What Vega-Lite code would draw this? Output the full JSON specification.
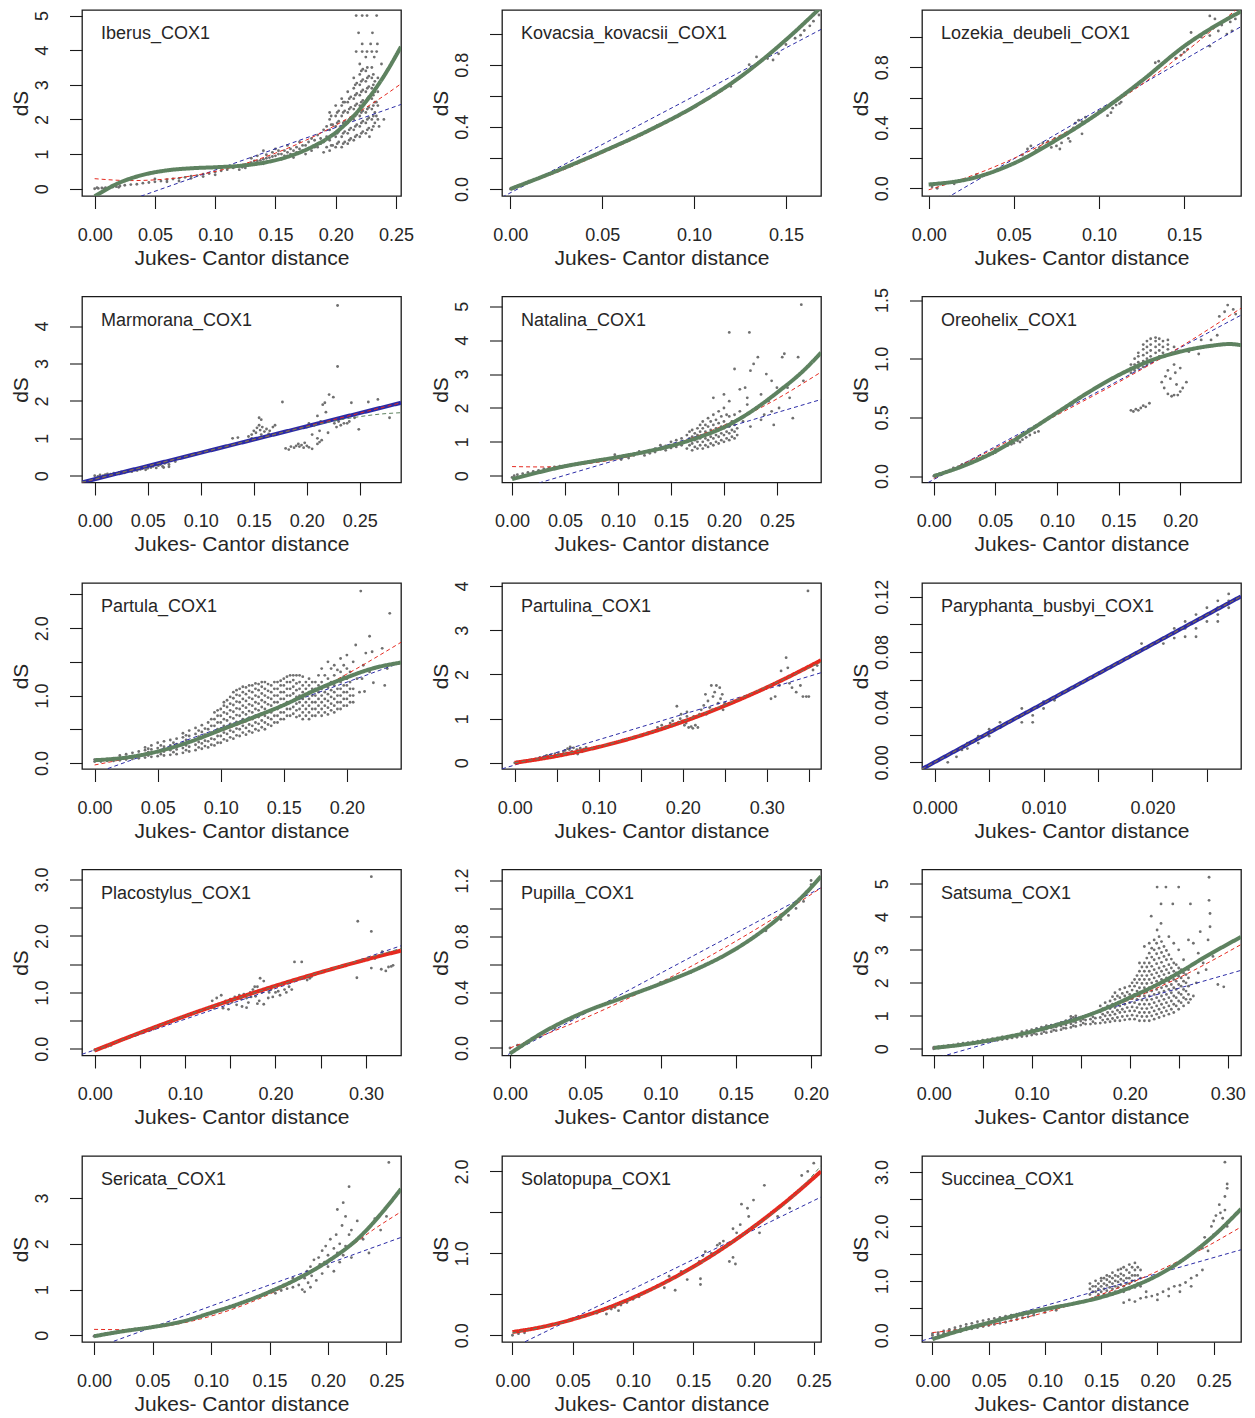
{"$schema":"https://vega.github.io/schema/vega-lite/v6.json","background":"white","padding":{"left":9,"top":9,"right":5,"bottom":5},"bounds":"flush","columns":3,"spacing":{"row":100.5,"column":101},
"datasets":{
"p1":[{"x":0,"y":0},{"x":0.002,"y":0.03},{"x":0.003,"y":0.01},{"x":0.006,"y":0.02},{"x":0.008,"y":0},{"x":0.009,"y":0.03},{"x":0.012,"y":0.04},{"x":0.014,"y":0.08},{"x":0.015,"y":0.05},{"x":0.018,"y":0.06},{"x":0.02,"y":0.04},{"x":0.021,"y":0.08},{"x":0.025,"y":0.1},{"x":0.03,"y":0.12},{"x":0.035,"y":0.13},{"x":0.04,"y":0.16},{"x":0.045,"y":0.18},{"x":0.05,"y":0.2},{"x":0.05,"y":0.28},{"x":0.055,"y":0.22},{"x":0.06,"y":0.26},{"x":0.06,"y":0.2},{"x":0.065,"y":0.28},{"x":0.07,"y":0.3},{"x":0.07,"y":0.22},{"x":0.075,"y":0.33},{"x":0.08,"y":0.36},{"x":0.08,"y":0.3},{"x":0.085,"y":0.38},{"x":0.09,"y":0.42},{"x":0.09,"y":0.35},{"x":0.095,"y":0.44},{"x":0.1,"y":0.48},{"x":0.1,"y":0.4},{"x":0.105,"y":0.52},{"x":0.11,"y":0.55},{"x":0.11,"y":0.62},{"x":0.115,"y":0.6},{"x":0.12,"y":0.65},{"x":0.12,"y":0.55},{"x":0.125,"y":0.7},{"x":0.125,"y":0.6},{"x":0.13,"y":0.75},{"x":0.13,"y":0.88},{"x":0.135,"y":0.8},{"x":0.135,"y":0.95},{"x":0.14,"y":0.85},{"x":0.14,"y":0.72},{"x":0.14,"y":1.1},{"x":0.145,"y":0.9},{"x":0.145,"y":0.78},{"x":0.15,"y":0.95},{"x":0.15,"y":1.15},{"x":0.155,"y":1},{"x":0.155,"y":0.85},{"x":0.16,"y":1.05},{"x":0.16,"y":1.25},{"x":0.16,"y":0.95},{"x":0.165,"y":1.1},{"x":0.165,"y":0.9},{"x":0.17,"y":1.15},{"x":0.17,"y":1.35},{"x":0.175,"y":1},{"x":0.175,"y":1.25},{"x":0.18,"y":1.1},{"x":0.18,"y":1.45},{"x":0.185,"y":1.2},{"x":0.185,"y":1.55},{"x":0.19,"y":1.05},{"x":0.19,"y":1.35},{"x":0.19,"y":1.7},
{"x":0.195,"y":1.1},{"x":0.195,"y":1.4},{"x":0.195,"y":1.7},{"x":0.195,"y":2},{"x":0.195,"y":2.2},{"x":0.1975,"y":1.25},{"x":0.1975,"y":1.55},{"x":0.1975,"y":1.85},{"x":0.2,"y":1.2},{"x":0.2,"y":1.5},{"x":0.2,"y":1.8},{"x":0.2,"y":2.1},{"x":0.2,"y":2.4},{"x":0.2025,"y":1.35},{"x":0.2025,"y":1.65},{"x":0.2025,"y":1.95},{"x":0.2025,"y":2.25},{"x":0.205,"y":1.2},{"x":0.205,"y":1.5},{"x":0.205,"y":1.8},{"x":0.205,"y":2.1},{"x":0.205,"y":2.4},{"x":0.205,"y":2.6},{"x":0.2075,"y":1.35},{"x":0.2075,"y":1.65},{"x":0.2075,"y":1.95},{"x":0.2075,"y":2.25},{"x":0.2075,"y":2.5},{"x":0.21,"y":1.3},{"x":0.21,"y":1.6},{"x":0.21,"y":1.9},{"x":0.21,"y":2.2},{"x":0.21,"y":2.5},{"x":0.21,"y":2.8},{"x":0.2125,"y":1.45},{"x":0.2125,"y":1.75},{"x":0.2125,"y":2.05},{"x":0.2125,"y":2.35},{"x":0.2125,"y":2.65},{"x":0.215,"y":1.4},{"x":0.215,"y":1.7},{"x":0.215,"y":2},{"x":0.215,"y":2.3},{"x":0.215,"y":2.6},{"x":0.215,"y":2.9},{"x":0.215,"y":3.2},{"x":0.2175,"y":1.55},{"x":0.2175,"y":1.85},{"x":0.2175,"y":2.15},{"x":0.2175,"y":2.45},{"x":0.2175,"y":2.75},{"x":0.2175,"y":3.05},{"x":0.22,"y":1.5},{"x":0.22,"y":1.8},{"x":0.22,"y":2.1},{"x":0.22,"y":2.4},{"x":0.22,"y":2.7},{"x":0.22,"y":3},{"x":0.22,"y":3.3},{"x":0.22,"y":3.6},{"x":0.2225,"y":1.65},{"x":0.2225,"y":1.95},{"x":0.2225,"y":2.25},{"x":0.2225,"y":2.55},{"x":0.2225,"y":2.85},{"x":0.2225,"y":3.15},{"x":0.2225,"y":3.45},{"x":0.225,"y":1.6},{"x":0.225,"y":1.9},{"x":0.225,"y":2.2},{"x":0.225,"y":2.5},{"x":0.225,"y":2.8},{"x":0.225,"y":3.1},{"x":0.225,"y":3.4},{"x":0.225,"y":3.8},{"x":0.2275,"y":1.75},{"x":0.2275,"y":2.05},{"x":0.2275,"y":2.35},{"x":0.2275,"y":2.65},{"x":0.2275,"y":2.95},{"x":0.2275,"y":3.25},{"x":0.23,"y":1.7},{"x":0.23,"y":2},{"x":0.23,"y":2.3},{"x":0.23,"y":2.6},{"x":0.23,"y":2.9},{"x":0.23,"y":3.2},{"x":0.23,"y":3.5},{"x":0.2325,"y":1.9},{"x":0.2325,"y":2.2},{"x":0.2325,"y":2.5},{"x":0.2325,"y":2.8},{"x":0.2325,"y":3.1},{"x":0.235,"y":2},{"x":0.235,"y":2.4},{"x":0.235,"y":2.8},{"x":0.235,"y":3.2},
{"x":0.19625,"y":1.25},{"x":0.19625,"y":1.55},{"x":0.19625,"y":1.85},{"x":0.19625,"y":2.1},{"x":0.20125,"y":1.3},{"x":0.20125,"y":1.6},{"x":0.20125,"y":1.9},{"x":0.20125,"y":2.2},{"x":0.20625,"y":1.3},{"x":0.20625,"y":1.6},{"x":0.20625,"y":1.9},{"x":0.20625,"y":2.2},{"x":0.20625,"y":2.5},{"x":0.21125,"y":1.4},{"x":0.21125,"y":1.7},{"x":0.21125,"y":2},{"x":0.21125,"y":2.3},{"x":0.21125,"y":2.6},{"x":0.21625,"y":1.5},{"x":0.21625,"y":1.8},{"x":0.21625,"y":2.1},{"x":0.21625,"y":2.4},{"x":0.21625,"y":2.7},{"x":0.21625,"y":3},{"x":0.22125,"y":1.6},{"x":0.22125,"y":1.9},{"x":0.22125,"y":2.2},{"x":0.22125,"y":2.5},{"x":0.22125,"y":2.8},{"x":0.22125,"y":3.1},{"x":0.22125,"y":3.4},{"x":0.22625,"y":1.7},{"x":0.22625,"y":2},{"x":0.22625,"y":2.3},{"x":0.22625,"y":2.6},{"x":0.22625,"y":2.9},{"x":0.22625,"y":3.2},{"x":0.22625,"y":3.5},{"x":0.23125,"y":1.8},{"x":0.23125,"y":2.1},{"x":0.23125,"y":2.4},{"x":0.23125,"y":2.7},{"x":0.23125,"y":3},{"x":0.23125,"y":3.3},{"x":0.23375,"y":2.1},{"x":0.23375,"y":2.5},{"x":0.23375,"y":2.9},
{"x":0.1225,"y":0.62},{"x":0.1275,"y":0.68},{"x":0.1325,"y":0.8},{"x":0.1375,"y":0.82},{"x":0.1425,"y":0.88},{"x":0.1425,"y":0.98},{"x":0.1475,"y":0.93},{"x":0.1475,"y":1.05},{"x":0.1525,"y":1},{"x":0.1525,"y":1.1},{"x":0.1575,"y":0.95},{"x":0.1575,"y":1.1},{"x":0.1625,"y":1},{"x":0.1625,"y":1.15},{"x":0.1675,"y":1.05},{"x":0.1675,"y":1.2},{"x":0.1725,"y":1.1},{"x":0.1725,"y":1.25},{"x":0.1775,"y":1.15},{"x":0.1775,"y":1.35},{"x":0.1825,"y":1.2},{"x":0.1825,"y":1.4},{"x":0.1875,"y":1.3},{"x":0.1875,"y":1.45},{"x":0.1925,"y":1.2},{"x":0.1925,"y":1.5},{"x":0.1925,"y":1.8},
{"x":0.217,"y":3.96},{"x":0.222,"y":3.96},{"x":0.226,"y":3.96},{"x":0.23,"y":3.96},{"x":0.234,"y":3.96},{"x":0.222,"y":4.18},{"x":0.229,"y":4.18},{"x":0.2346,"y":4.18},{"x":0.219,"y":4.5},{"x":0.2305,"y":4.5},{"x":0.217,"y":5},{"x":0.222,"y":5},{"x":0.226,"y":5},{"x":0.234,"y":5},{"x":0.232,"y":3.8},{"x":0.238,"y":3.6},{"x":0.24,"y":2},{"x":0.236,"y":1.8},{"x":0.228,"y":1.5}],
"p2":[{"x":0,"y":0},{"x":0.002,"y":0.005},{"x":0.004,"y":0.02},{"x":0.01,"y":0.05},{"x":0.03,"y":0.14},{"x":0.06,"y":0.29},{"x":0.08,"y":0.41},{"x":0.1,"y":0.53},{"x":0.12,"y":0.66},{"x":0.13,"y":0.8},{"x":0.134,"y":0.85},{"x":0.14,"y":0.84},{"x":0.143,"y":0.83},{"x":0.146,"y":0.87},{"x":0.15,"y":0.93},{"x":0.155,"y":0.97},{"x":0.158,"y":0.99},{"x":0.16,"y":1.02},{"x":0.163,"y":1.05},{"x":0.165,"y":1.08},{"x":0.168,"y":1.12}],
"p3":[{"x":0.002,"y":0.01},{"x":0.005,"y":0},{"x":0.009,"y":0.03},{"x":0.015,"y":0.03},{"x":0.018,"y":0.05},{"x":0.028,"y":0.09},{"x":0.03,"y":0.07},{"x":0.045,"y":0.14},{"x":0.055,"y":0.22},{"x":0.058,"y":0.26},{"x":0.06,"y":0.28},{"x":0.063,"y":0.25},{"x":0.065,"y":0.27},{"x":0.067,"y":0.3},{"x":0.07,"y":0.31},{"x":0.072,"y":0.27},{"x":0.074,"y":0.33},{"x":0.075,"y":0.28},{"x":0.077,"y":0.26},{"x":0.078,"y":0.3},{"x":0.08,"y":0.35},{"x":0.082,"y":0.33},{"x":0.083,"y":0.31},{"x":0.085,"y":0.4},{"x":0.086,"y":0.43},{"x":0.088,"y":0.45},{"x":0.09,"y":0.44},{"x":0.09,"y":0.36},{"x":0.092,"y":0.47},{"x":0.095,"y":0.46},{"x":0.097,"y":0.48},{"x":0.1,"y":0.51},{"x":0.102,"y":0.52},{"x":0.105,"y":0.48},{"x":0.107,"y":0.5},{"x":0.108,"y":0.53},{"x":0.11,"y":0.55},{"x":0.112,"y":0.56},{"x":0.113,"y":0.57},{"x":0.133,"y":0.83},{"x":0.135,"y":0.84},{"x":0.142,"y":0.87},{"x":0.145,"y":0.86},{"x":0.148,"y":0.88},{"x":0.15,"y":0.9},{"x":0.152,"y":0.92},{"x":0.154,"y":1.03},{"x":0.16,"y":1},{"x":0.163,"y":1.03},{"x":0.165,"y":1.01},{"x":0.165,"y":1.14},{"x":0.165,"y":0.94},{"x":0.167,"y":1.06},{"x":0.168,"y":1.12},{"x":0.17,"y":1.04},{"x":0.172,"y":1.08},{"x":0.175,"y":1.02},{"x":0.177,"y":1.1},{"x":0.178,"y":1.04},{"x":0.18,"y":1.12}],
"p4":[{"x":0,"y":0},{"x":0.003,"y":-0.02},{"x":0.005,"y":0.02},{"x":0.008,"y":0},{"x":0.01,"y":0.03},{"x":0.012,"y":0.05},{"x":0.015,"y":0.04},{"x":0.018,"y":0.07},{"x":0.02,"y":0.06},{"x":0.023,"y":0.09},{"x":0.025,"y":0.1},{"x":0.028,"y":0.08},{"x":0.03,"y":0.12},{"x":0.033,"y":0.13},{"x":0.035,"y":0.11},{"x":0.038,"y":0.15},{"x":0.04,"y":0.14},{"x":0.043,"y":0.17},{"x":0.045,"y":0.19},{"x":0.048,"y":0.16},{"x":0.05,"y":0.2},{"x":0.053,"y":0.22},{"x":0.055,"y":0.25},{"x":0.058,"y":0.21},{"x":0.06,"y":0.27},{"x":0.062,"y":0.3},{"x":0.064,"y":0.25},{"x":0.066,"y":0.33},{"x":0.068,"y":0.36},{"x":0.07,"y":0.3},{"x":0.072,"y":0.4},{"x":0.074,"y":0.44},{"x":0.076,"y":0.38},{"x":0.065,"y":0.22},{"x":0.07,"y":0.24},{"x":0.13,"y":1},{"x":0.135,"y":1.02},{"x":0.145,"y":1.05},{"x":0.148,"y":1.1},{"x":0.15,"y":1.2},{"x":0.152,"y":1.15},{"x":0.153,"y":1.28},{"x":0.155,"y":1.35},{"x":0.156,"y":1.22},{"x":0.157,"y":1.1},{"x":0.158,"y":1.3},{"x":0.16,"y":1.18},{"x":0.162,"y":1.25},{"x":0.164,"y":1.12},{"x":0.165,"y":1.2},{"x":0.155,"y":1.55},{"x":0.157,"y":1.5},{"x":0.168,"y":1.3},{"x":0.17,"y":1.35},{"x":0.177,"y":1.97},{"x":0.148,"y":1},{"x":0.152,"y":0.98},{"x":0.18,"y":0.73},{"x":0.183,"y":0.7},{"x":0.185,"y":0.78},{"x":0.188,"y":0.75},{"x":0.19,"y":0.8},{"x":0.192,"y":0.85},{"x":0.193,"y":0.78},{"x":0.195,"y":0.82},{"x":0.197,"y":0.75},{"x":0.198,"y":0.88},{"x":0.2,"y":0.8},{"x":0.202,"y":0.76},{"x":0.205,"y":0.72},{"x":0.21,"y":0.85},{"x":0.212,"y":0.9},{"x":0.2,"y":1.3},{"x":0.202,"y":1.4},{"x":0.205,"y":1.1},{"x":0.207,"y":1.35},{"x":0.21,"y":1.6},{"x":0.212,"y":1.2},{"x":0.213,"y":1.45},{"x":0.215,"y":1.9},{"x":0.217,"y":1.95},{"x":0.218,"y":1.7},{"x":0.22,"y":1.15},{"x":0.221,"y":2.17},{"x":0.225,"y":2.1},{"x":0.226,"y":1.4},{"x":0.228,"y":1.3},{"x":0.229,"y":2.92},{"x":0.229,"y":4.55},{"x":0.23,"y":1.45},{"x":0.232,"y":1.35},{"x":0.235,"y":1.4},{"x":0.238,"y":1.4},{"x":0.24,"y":1.45},{"x":0.242,"y":1.95},{"x":0.245,"y":1.55},{"x":0.249,"y":1.24},{"x":0.258,"y":1.97},{"x":0.267,"y":2.04},{"x":0.278,"y":1.55},{"x":0.21,"y":1},{"x":0.214,"y":0.95}],
"p5":[{"x":0,"y":-0.05},{"x":0.002,"y":0},{"x":0.005,"y":0.03},{"x":0.01,"y":0.06},{"x":0.015,"y":0.1},{"x":0.02,"y":0.13},{"x":0.025,"y":0.16},{"x":0.03,"y":0.2},{"x":0.035,"y":0.23},{"x":0.04,"y":0.26},{"x":0.045,"y":0.28},{"x":0.05,"y":0.3},{"x":0.055,"y":0.33},{"x":0.06,"y":0.35},{"x":0.065,"y":0.37},{"x":0.07,"y":0.4},{"x":0.075,"y":0.42},{"x":0.08,"y":0.45},{"x":0.085,"y":0.47},{"x":0.09,"y":0.5},{"x":0.095,"y":0.52},{"x":0.1,"y":0.55},{"x":0.097,"y":0.62},{"x":0.103,"y":0.48},{"x":0.105,"y":0.58},{"x":0.11,"y":0.62},{"x":0.11,"y":0.52},{"x":0.115,"y":0.6},{"x":0.12,"y":0.65},{"x":0.12,"y":0.72},{"x":0.125,"y":0.6},{"x":0.125,"y":0.7},{"x":0.13,"y":0.75},{"x":0.13,"y":0.66},{"x":0.135,"y":0.8},{"x":0.135,"y":0.7},{"x":0.14,"y":0.78},{"x":0.14,"y":0.9},{"x":0.145,"y":0.75},{"x":0.145,"y":0.88},{"x":0.15,"y":0.82},{"x":0.15,"y":1},{"x":0.155,"y":0.85},{"x":0.155,"y":1.05},{"x":0.16,"y":0.9},{"x":0.16,"y":1.1},{"x":0.165,"y":0.8},{"x":0.165,"y":1},{"x":0.165,"y":1.2},{"x":0.17,"y":0.75},{"x":0.17,"y":0.95},{"x":0.17,"y":1.15},{"x":0.17,"y":1.35},{"x":0.175,"y":0.8},{"x":0.175,"y":1},{"x":0.175,"y":1.2},{"x":0.175,"y":1.4},{"x":0.18,"y":0.8},{"x":0.18,"y":1},{"x":0.18,"y":1.2},{"x":0.18,"y":1.4},{"x":0.18,"y":1.6},{"x":0.185,"y":0.85},{"x":0.185,"y":1.05},{"x":0.185,"y":1.25},{"x":0.185,"y":1.45},{"x":0.185,"y":1.7},{"x":0.19,"y":0.9},{"x":0.19,"y":1.1},{"x":0.19,"y":1.3},{"x":0.19,"y":1.5},{"x":0.19,"y":1.8},{"x":0.195,"y":0.95},{"x":0.195,"y":1.15},{"x":0.195,"y":1.35},{"x":0.195,"y":1.55},{"x":0.195,"y":1.9},{"x":0.2,"y":1},{"x":0.2,"y":1.2},{"x":0.2,"y":1.4},{"x":0.2,"y":1.6},{"x":0.2,"y":2},{"x":0.205,"y":1.05},{"x":0.205,"y":1.25},{"x":0.205,"y":1.45},{"x":0.205,"y":1.75},{"x":0.21,"y":1.1},{"x":0.21,"y":1.3},{"x":0.21,"y":1.5},{"x":0.21,"y":1.8},
{"x":0.1575,"y":0.95},{"x":0.1625,"y":1},{"x":0.1675,"y":0.9},{"x":0.1675,"y":1.1},{"x":0.1675,"y":1.3},{"x":0.1725,"y":0.85},{"x":0.1725,"y":1.05},{"x":0.1725,"y":1.25},{"x":0.1775,"y":0.9},{"x":0.1775,"y":1.1},{"x":0.1775,"y":1.3},{"x":0.1775,"y":1.5},{"x":0.1825,"y":0.9},{"x":0.1825,"y":1.1},{"x":0.1825,"y":1.3},{"x":0.1825,"y":1.5},{"x":0.1875,"y":0.95},{"x":0.1875,"y":1.15},{"x":0.1875,"y":1.35},{"x":0.1875,"y":1.6},{"x":0.1925,"y":1},{"x":0.1925,"y":1.2},{"x":0.1925,"y":1.4},{"x":0.1925,"y":1.65},{"x":0.1975,"y":1.05},{"x":0.1975,"y":1.25},{"x":0.1975,"y":1.45},{"x":0.1975,"y":1.75},{"x":0.2025,"y":1.1},{"x":0.2025,"y":1.3},{"x":0.2025,"y":1.5},{"x":0.2025,"y":1.8},{"x":0.2075,"y":1.15},{"x":0.2075,"y":1.35},{"x":0.2075,"y":1.6},{"x":0.2125,"y":1.2},{"x":0.2125,"y":1.4},{"x":0.2125,"y":1.65},
{"x":0.19,"y":2.3},{"x":0.2,"y":2.4},{"x":0.205,"y":2.2},{"x":0.205,"y":4.23},{"x":0.21,"y":3.15},{"x":0.215,"y":2.55},{"x":0.22,"y":2.6},{"x":0.222,"y":2.1},{"x":0.224,"y":4.23},{"x":0.225,"y":3.1},{"x":0.228,"y":3.3},{"x":0.23,"y":2},{"x":0.232,"y":3.5},{"x":0.235,"y":2.4},{"x":0.238,"y":1.8},{"x":0.24,"y":3},{"x":0.242,"y":2.2},{"x":0.245,"y":1.9},{"x":0.247,"y":1.5},{"x":0.25,"y":2.6},{"x":0.252,"y":2},{"x":0.255,"y":3.5},{"x":0.257,"y":3.6},{"x":0.26,"y":2.6},{"x":0.262,"y":2.3},{"x":0.265,"y":1.7},{"x":0.268,"y":2.9},{"x":0.27,"y":3.5},{"x":0.273,"y":5.05},{"x":0.275,"y":2.8},{"x":0.218,"y":1.6},{"x":0.225,"y":1.45},{"x":0.235,"y":1.65},{"x":0.245,"y":2.8},{"x":0.215,"y":1.9},{"x":0.222,"y":2.3}],
"p6":[{"x":0,"y":0},{"x":0.003,"y":0},{"x":0.006,"y":0.02},{"x":0.01,"y":0.04},{"x":0.013,"y":0.05},{"x":0.016,"y":0.07},{"x":0.02,"y":0.08},{"x":0.023,"y":0.1},{"x":0.026,"y":0.11},{"x":0.03,"y":0.13},{"x":0.035,"y":0.15},{"x":0.04,"y":0.17},{"x":0.045,"y":0.19},{"x":0.05,"y":0.2},{"x":0.05,"y":0.23},{"x":0.055,"y":0.24},{"x":0.06,"y":0.26},{"x":0.065,"y":0.28},{"x":0.068,"y":0.3},{"x":0.07,"y":0.29},{"x":0.075,"y":0.33},{"x":0.078,"y":0.35},{"x":0.082,"y":0.37},{"x":0.085,"y":0.38},{"x":0.048,"y":0.19},{"x":0.063,"y":0.27},{"x":0.072,"y":0.31},{"x":0.16,"y":0.88},{"x":0.16,"y":0.92},{"x":0.16,"y":0.95},{"x":0.163,"y":0.9},{"x":0.163,"y":0.95},{"x":0.163,"y":1},{"x":0.166,"y":0.92},{"x":0.166,"y":0.97},{"x":0.166,"y":1.02},{"x":0.166,"y":1.05},{"x":0.17,"y":0.93},{"x":0.17,"y":0.98},{"x":0.17,"y":1.03},{"x":0.17,"y":1.08},{"x":0.17,"y":1.12},{"x":0.173,"y":0.95},{"x":0.173,"y":1},{"x":0.173,"y":1.05},{"x":0.173,"y":1.1},{"x":0.173,"y":1.15},{"x":0.176,"y":0.97},{"x":0.176,"y":1.02},{"x":0.176,"y":1.07},{"x":0.176,"y":1.12},{"x":0.176,"y":1.17},{"x":0.18,"y":1},{"x":0.18,"y":1.05},{"x":0.18,"y":1.1},{"x":0.18,"y":1.15},{"x":0.18,"y":1.18},{"x":0.183,"y":1.02},{"x":0.183,"y":1.07},{"x":0.183,"y":1.12},{"x":0.183,"y":1.17},{"x":0.186,"y":1.05},{"x":0.186,"y":1.1},{"x":0.186,"y":1.15},{"x":0.19,"y":1.08},{"x":0.19,"y":1.12},{"x":0.19,"y":1.16},{"x":0.16,"y":0.56},{"x":0.162,"y":0.55},{"x":0.164,"y":0.57},{"x":0.166,"y":0.56},{"x":0.168,"y":0.58},{"x":0.17,"y":0.6},{"x":0.172,"y":0.59},{"x":0.175,"y":0.62},{"x":0.185,"y":0.8},{"x":0.187,"y":0.75},{"x":0.188,"y":0.85},{"x":0.19,"y":0.7},{"x":0.19,"y":0.9},{"x":0.192,"y":0.83},{"x":0.193,"y":0.68},{"x":0.195,"y":0.69},{"x":0.196,"y":0.88},{"x":0.197,"y":0.78},{"x":0.198,"y":0.69},{"x":0.2,"y":0.72},{"x":0.2,"y":0.92},{"x":0.202,"y":0.75},{"x":0.205,"y":0.8},{"x":0.195,"y":0.95},{"x":0.195,"y":1.1},{"x":0.207,"y":1.06},{"x":0.217,"y":1.16},{"x":0.215,"y":1.04},{"x":0.225,"y":1.16},{"x":0.23,"y":1.2},{"x":0.2317,"y":1.36},{"x":0.236,"y":1.4},{"x":0.2385,"y":1.457},{"x":0.243,"y":1.42},{"x":0.245,"y":1.38}],
"p7":[{"x":0,"y":0.02},{"x":0,"y":0.05},{"x":0.005,"y":0.02},{"x":0.005,"y":0.05},{"x":0.01,"y":0.03},{"x":0.01,"y":0.06},{"x":0.015,"y":0.03},{"x":0.015,"y":0.07},{"x":0.02,"y":0.04},{"x":0.02,"y":0.08},{"x":0.02,"y":0.11},{"x":0.025,"y":0.05},{"x":0.025,"y":0.09},{"x":0.025,"y":0.13},{"x":0.03,"y":0.06},{"x":0.03,"y":0.1},{"x":0.03,"y":0.15},{"x":0.035,"y":0.07},{"x":0.035,"y":0.12},{"x":0.035,"y":0.17},{"x":0.04,"y":0.08},{"x":0.04,"y":0.13},{"x":0.04,"y":0.19},{"x":0.04,"y":0.23},{"x":0.045,"y":0.09},{"x":0.045,"y":0.14},{"x":0.045,"y":0.2},{"x":0.045,"y":0.26},{"x":0.05,"y":0.1},{"x":0.05,"y":0.16},{"x":0.05,"y":0.22},{"x":0.05,"y":0.3},{"x":0.055,"y":0.11},{"x":0.055,"y":0.17},{"x":0.055,"y":0.24},{"x":0.055,"y":0.32},{"x":0.06,"y":0.12},{"x":0.06,"y":0.19},{"x":0.06,"y":0.26},{"x":0.06,"y":0.34},{"x":0.065,"y":0.13},{"x":0.065,"y":0.2},{"x":0.065,"y":0.28},{"x":0.065,"y":0.36},{"x":0.07,"y":0.15},{"x":0.07,"y":0.22},{"x":0.07,"y":0.3},{"x":0.07,"y":0.38},{"x":0.07,"y":0.44},{"x":0.075,"y":0.17},{"x":0.075,"y":0.24},{"x":0.075,"y":0.32},{"x":0.075,"y":0.4},{"x":0.075,"y":0.48},{"x":0.08,"y":0.19},{"x":0.08,"y":0.27},{"x":0.08,"y":0.35},{"x":0.08,"y":0.43},{"x":0.08,"y":0.52},{"x":0.085,"y":0.21},{"x":0.085,"y":0.29},{"x":0.085,"y":0.37},{"x":0.085,"y":0.46},{"x":0.085,"y":0.56},{"x":0.09,"y":0.23},{"x":0.09,"y":0.32},{"x":0.09,"y":0.41},{"x":0.09,"y":0.5},{"x":0.09,"y":0.6},{"x":0.095,"y":0.26},{"x":0.095,"y":0.35},{"x":0.095,"y":0.45},{"x":0.095,"y":0.55},{"x":0.095,"y":0.65},{"x":0.095,"y":0.75},{"x":0.1,"y":0.3},{"x":0.1,"y":0.4},{"x":0.1,"y":0.5},{"x":0.1,"y":0.6},{"x":0.1,"y":0.7},{"x":0.1,"y":0.8},{"x":0.105,"y":0.33},{"x":0.105,"y":0.43},{"x":0.105,"y":0.53},{"x":0.105,"y":0.63},{"x":0.105,"y":0.73},{"x":0.105,"y":0.83},{"x":0.105,"y":0.93},{"x":0.11,"y":0.36},{"x":0.11,"y":0.46},{"x":0.11,"y":0.56},{"x":0.11,"y":0.66},{"x":0.11,"y":0.76},{"x":0.11,"y":0.86},{"x":0.11,"y":0.96},{"x":0.11,"y":1.05},{"x":0.115,"y":0.4},{"x":0.115,"y":0.5},{"x":0.115,"y":0.6},{"x":0.115,"y":0.7},{"x":0.115,"y":0.8},{"x":0.115,"y":0.9},{"x":0.115,"y":1},{"x":0.115,"y":1.1},{"x":0.12,"y":0.42},{"x":0.12,"y":0.52},{"x":0.12,"y":0.62},{"x":0.12,"y":0.72},{"x":0.12,"y":0.82},{"x":0.12,"y":0.92},{"x":0.12,"y":1.02},{"x":0.12,"y":1.12},{"x":0.125,"y":0.45},{"x":0.125,"y":0.55},{"x":0.125,"y":0.65},{"x":0.125,"y":0.75},{"x":0.125,"y":0.85},{"x":0.125,"y":0.95},{"x":0.125,"y":1.05},{"x":0.125,"y":1.15},{"x":0.13,"y":0.48},{"x":0.13,"y":0.58},{"x":0.13,"y":0.68},{"x":0.13,"y":0.78},{"x":0.13,"y":0.88},{"x":0.13,"y":0.98},{"x":0.13,"y":1.08},{"x":0.13,"y":1.17},{"x":0.135,"y":0.5},{"x":0.135,"y":0.6},{"x":0.135,"y":0.7},{"x":0.135,"y":0.8},{"x":0.135,"y":0.9},{"x":0.135,"y":1},{"x":0.135,"y":1.1},{"x":0.135,"y":1.2},{"x":0.14,"y":0.55},{"x":0.14,"y":0.65},{"x":0.14,"y":0.75},{"x":0.14,"y":0.85},{"x":0.14,"y":0.95},{"x":0.14,"y":1.05},{"x":0.14,"y":1.15},{"x":0.145,"y":0.6},{"x":0.145,"y":0.7},{"x":0.145,"y":0.8},{"x":0.145,"y":0.9},{"x":0.145,"y":1},{"x":0.145,"y":1.1},{"x":0.145,"y":1.2},{"x":0.15,"y":0.65},{"x":0.15,"y":0.75},{"x":0.15,"y":0.85},{"x":0.15,"y":0.95},{"x":0.15,"y":1.05},{"x":0.15,"y":1.15},{"x":0.15,"y":1.25},{"x":0.155,"y":0.7},{"x":0.155,"y":0.8},{"x":0.155,"y":0.9},{"x":0.155,"y":1},{"x":0.155,"y":1.1},{"x":0.155,"y":1.2},{"x":0.155,"y":1.3},{"x":0.16,"y":0.68},{"x":0.16,"y":0.78},{"x":0.16,"y":0.88},{"x":0.16,"y":0.98},{"x":0.16,"y":1.08},{"x":0.16,"y":1.18},{"x":0.16,"y":1.3},{"x":0.165,"y":0.65},{"x":0.165,"y":0.75},{"x":0.165,"y":0.85},{"x":0.165,"y":0.95},{"x":0.165,"y":1.05},{"x":0.165,"y":1.15},{"x":0.165,"y":1.28},{"x":0.17,"y":0.65},{"x":0.17,"y":0.75},{"x":0.17,"y":0.85},{"x":0.17,"y":0.95},{"x":0.17,"y":1.05},{"x":0.17,"y":1.15},{"x":0.17,"y":1.25},{"x":0.175,"y":0.7},{"x":0.175,"y":0.8},{"x":0.175,"y":0.9},{"x":0.175,"y":1},{"x":0.175,"y":1.1},{"x":0.175,"y":1.2},{"x":0.18,"y":0.7},{"x":0.18,"y":0.8},{"x":0.18,"y":0.9},{"x":0.18,"y":1},{"x":0.18,"y":1.1},{"x":0.18,"y":1.2},{"x":0.18,"y":1.4},{"x":0.185,"y":0.72},{"x":0.185,"y":0.82},{"x":0.185,"y":0.92},{"x":0.185,"y":1.02},{"x":0.185,"y":1.12},{"x":0.185,"y":1.25},{"x":0.185,"y":1.5},{"x":0.19,"y":0.75},{"x":0.19,"y":0.85},{"x":0.19,"y":0.95},{"x":0.19,"y":1.05},{"x":0.19,"y":1.15},{"x":0.19,"y":1.3},{"x":0.19,"y":1.45},{"x":0.195,"y":0.8},{"x":0.195,"y":0.9},{"x":0.195,"y":1},{"x":0.195,"y":1.1},{"x":0.195,"y":1.2},{"x":0.195,"y":1.35},{"x":0.195,"y":1.55},{"x":0.2,"y":0.85},{"x":0.2,"y":0.95},{"x":0.2,"y":1.05},{"x":0.2,"y":1.15},{"x":0.2,"y":1.25},{"x":0.2,"y":1.4},{"x":0.2,"y":1.6},{"x":0.205,"y":0.9},{"x":0.205,"y":1},{"x":0.205,"y":1.1},{"x":0.205,"y":1.3},{"x":0.205,"y":1.5},
{"x":0.0425,"y":0.11},{"x":0.0425,"y":0.16},{"x":0.0425,"y":0.21},{"x":0.0525,"y":0.13},{"x":0.0525,"y":0.19},{"x":0.0525,"y":0.26},{"x":0.0625,"y":0.16},{"x":0.0625,"y":0.23},{"x":0.0625,"y":0.3},{"x":0.0725,"y":0.19},{"x":0.0725,"y":0.26},{"x":0.0725,"y":0.34},{"x":0.0725,"y":0.41},{"x":0.0825,"y":0.23},{"x":0.0825,"y":0.31},{"x":0.0825,"y":0.39},{"x":0.0825,"y":0.48},{"x":0.0875,"y":0.25},{"x":0.0875,"y":0.33},{"x":0.0875,"y":0.42},{"x":0.0875,"y":0.51},{"x":0.0925,"y":0.27},{"x":0.0925,"y":0.36},{"x":0.0925,"y":0.45},{"x":0.0925,"y":0.55},{"x":0.0925,"y":0.65},{"x":0.0975,"y":0.3},{"x":0.0975,"y":0.4},{"x":0.0975,"y":0.5},{"x":0.0975,"y":0.6},{"x":0.0975,"y":0.7},{"x":0.0975,"y":0.78},{"x":0.1025,"y":0.35},{"x":0.1025,"y":0.45},{"x":0.1025,"y":0.55},{"x":0.1025,"y":0.65},{"x":0.1025,"y":0.75},{"x":0.1025,"y":0.85},{"x":0.1025,"y":0.9},{"x":0.1075,"y":0.38},{"x":0.1075,"y":0.48},{"x":0.1075,"y":0.58},{"x":0.1075,"y":0.68},{"x":0.1075,"y":0.78},{"x":0.1075,"y":0.88},{"x":0.1075,"y":0.98},{"x":0.1125,"y":0.41},{"x":0.1125,"y":0.51},{"x":0.1125,"y":0.61},{"x":0.1125,"y":0.71},{"x":0.1125,"y":0.81},{"x":0.1125,"y":0.91},{"x":0.1125,"y":1.01},{"x":0.1125,"y":1.08},{"x":0.1175,"y":0.45},{"x":0.1175,"y":0.55},{"x":0.1175,"y":0.65},{"x":0.1175,"y":0.75},{"x":0.1175,"y":0.85},{"x":0.1175,"y":0.95},{"x":0.1175,"y":1.05},{"x":0.1175,"y":1.13},{"x":0.1225,"y":0.47},{"x":0.1225,"y":0.57},{"x":0.1225,"y":0.67},{"x":0.1225,"y":0.77},{"x":0.1225,"y":0.87},{"x":0.1225,"y":0.97},{"x":0.1225,"y":1.07},{"x":0.1225,"y":1.15},{"x":0.1275,"y":0.5},{"x":0.1275,"y":0.6},{"x":0.1275,"y":0.7},{"x":0.1275,"y":0.8},{"x":0.1275,"y":0.9},{"x":0.1275,"y":1},{"x":0.1275,"y":1.1},{"x":0.1275,"y":1.18},{"x":0.1325,"y":0.53},{"x":0.1325,"y":0.63},{"x":0.1325,"y":0.73},{"x":0.1325,"y":0.83},{"x":0.1325,"y":0.93},{"x":0.1325,"y":1.03},{"x":0.1325,"y":1.13},{"x":0.1325,"y":1.2},{"x":0.1375,"y":0.57},{"x":0.1375,"y":0.67},{"x":0.1375,"y":0.77},{"x":0.1375,"y":0.87},{"x":0.1375,"y":0.97},{"x":0.1375,"y":1.07},{"x":0.1375,"y":1.17},{"x":0.1425,"y":0.6},{"x":0.1425,"y":0.7},{"x":0.1425,"y":0.8},{"x":0.1425,"y":0.9},{"x":0.1425,"y":1},{"x":0.1425,"y":1.1},{"x":0.1425,"y":1.2},{"x":0.1475,"y":0.65},{"x":0.1475,"y":0.75},{"x":0.1475,"y":0.85},{"x":0.1475,"y":0.95},{"x":0.1475,"y":1.05},{"x":0.1475,"y":1.15},{"x":0.1475,"y":1.22},{"x":0.1525,"y":0.7},{"x":0.1525,"y":0.8},{"x":0.1525,"y":0.9},{"x":0.1525,"y":1},{"x":0.1525,"y":1.1},{"x":0.1525,"y":1.2},{"x":0.1525,"y":1.28},{"x":0.1575,"y":0.73},{"x":0.1575,"y":0.83},{"x":0.1575,"y":0.93},{"x":0.1575,"y":1.03},{"x":0.1575,"y":1.13},{"x":0.1575,"y":1.23},{"x":0.1575,"y":1.3},{"x":0.1625,"y":0.7},{"x":0.1625,"y":0.8},{"x":0.1625,"y":0.9},{"x":0.1625,"y":1},{"x":0.1625,"y":1.1},{"x":0.1625,"y":1.2},{"x":0.1625,"y":1.3},{"x":0.1675,"y":0.7},{"x":0.1675,"y":0.8},{"x":0.1675,"y":0.9},{"x":0.1675,"y":1},{"x":0.1675,"y":1.1},{"x":0.1675,"y":1.2},{"x":0.1725,"y":0.7},{"x":0.1725,"y":0.8},{"x":0.1725,"y":0.9},{"x":0.1725,"y":1},{"x":0.1725,"y":1.1},{"x":0.1725,"y":1.2},{"x":0.1775,"y":0.75},{"x":0.1775,"y":0.85},{"x":0.1775,"y":0.95},{"x":0.1775,"y":1.05},{"x":0.1775,"y":1.15},{"x":0.1775,"y":1.3},{"x":0.1825,"y":0.75},{"x":0.1825,"y":0.85},{"x":0.1825,"y":0.95},{"x":0.1825,"y":1.05},{"x":0.1825,"y":1.15},{"x":0.1825,"y":1.3},{"x":0.1875,"y":0.78},{"x":0.1875,"y":0.88},{"x":0.1875,"y":0.98},{"x":0.1875,"y":1.08},{"x":0.1875,"y":1.2},{"x":0.1875,"y":1.4},{"x":0.1925,"y":0.8},{"x":0.1925,"y":0.9},{"x":0.1925,"y":1},{"x":0.1925,"y":1.1},{"x":0.1925,"y":1.22},{"x":0.1925,"y":1.38},{"x":0.1975,"y":0.85},{"x":0.1975,"y":0.95},{"x":0.1975,"y":1.05},{"x":0.1975,"y":1.15},{"x":0.1975,"y":1.28},{"x":0.1975,"y":1.45},{"x":0.2025,"y":0.9},{"x":0.2025,"y":1},{"x":0.2025,"y":1.1},{"x":0.2025,"y":1.2},{"x":0.2025,"y":1.35},
{"x":0.207,"y":1.75},{"x":0.21,"y":1.05},{"x":0.213,"y":1.45},{"x":0.215,"y":1.63},{"x":0.218,"y":1.88},{"x":0.218,"y":1.35},{"x":0.211,"y":2.55},{"x":0.22,"y":1.65},{"x":0.222,"y":1.4},{"x":0.221,"y":1.19},{"x":0.214,"y":1.06},{"x":0.228,"y":1.7},{"x":0.23,"y":1.15},{"x":0.232,"y":1.4},{"x":0.234,"y":2.22},{"x":0.208,"y":1.25},{"x":0.212,"y":1.25}],
"p8":[{"x":0,"y":0},{"x":0.003,"y":0.02},{"x":0.006,"y":0.01},{"x":0.01,"y":0.04},{"x":0.015,"y":0.05},{"x":0.02,"y":0.07},{"x":0.025,"y":0.09},{"x":0.03,"y":0.12},{"x":0.035,"y":0.14},{"x":0.038,"y":0.17},{"x":0.04,"y":0.15},{"x":0.043,"y":0.18},{"x":0.045,"y":0.13},{"x":0.048,"y":0.2},{"x":0.05,"y":0.17},{"x":0.052,"y":0.22},{"x":0.055,"y":0.19},{"x":0.058,"y":0.25},{"x":0.06,"y":0.28},{"x":0.062,"y":0.22},{"x":0.063,"y":0.32},{"x":0.065,"y":0.3},{"x":0.066,"y":0.36},{"x":0.068,"y":0.26},{"x":0.07,"y":0.34},{"x":0.072,"y":0.24},{"x":0.074,"y":0.3},{"x":0.075,"y":0.2},{"x":0.077,"y":0.27},{"x":0.078,"y":0.33},{"x":0.08,"y":0.25},{"x":0.082,"y":0.31},{"x":0.085,"y":0.35},{"x":0.088,"y":0.3},{"x":0.06,"y":0.19},{"x":0.07,"y":0.21},{"x":0.17,"y":0.8},{"x":0.175,"y":0.85},{"x":0.18,"y":0.82},{"x":0.185,"y":0.9},{"x":0.188,"y":0.95},{"x":0.19,"y":0.88},{"x":0.193,"y":1.28},{"x":0.195,"y":0.92},{"x":0.197,"y":1},{"x":0.2,"y":0.95},{"x":0.202,"y":0.85},{"x":0.204,"y":0.9},{"x":0.205,"y":1.05},{"x":0.207,"y":0.8},{"x":0.21,"y":0.82},{"x":0.212,"y":0.78},{"x":0.213,"y":1.05},{"x":0.215,"y":0.85},{"x":0.218,"y":0.8},{"x":0.22,"y":1.1},{"x":0.205,"y":1.15},{"x":0.198,"y":1.1},{"x":0.222,"y":1.2},{"x":0.225,"y":1.3},{"x":0.227,"y":1.55},{"x":0.23,"y":1.4},{"x":0.232,"y":1.25},{"x":0.234,"y":1.75},{"x":0.236,"y":1.5},{"x":0.238,"y":1.6},{"x":0.24,"y":1.75},{"x":0.242,"y":1.35},{"x":0.244,"y":1.7},{"x":0.245,"y":1.45},{"x":0.247,"y":1.55},{"x":0.248,"y":1.2},{"x":0.25,"y":1.35},{"x":0.228,"y":1.1},{"x":0.235,"y":1.2},{"x":0.305,"y":1.45},{"x":0.31,"y":1.5},{"x":0.315,"y":1.75},{"x":0.317,"y":2.08},{"x":0.323,"y":2.38},{"x":0.325,"y":2.15},{"x":0.327,"y":1.8},{"x":0.33,"y":1.7},{"x":0.332,"y":2},{"x":0.335,"y":1.6},{"x":0.34,"y":1.75},{"x":0.343,"y":1.5},{"x":0.347,"y":1.5},{"x":0.35,"y":1.5},{"x":0.349,"y":3.89},{"x":0.355,"y":2.1},{"x":0.36,"y":2.2}],
"p9":[{"x":0.0012,"y":0},{"x":0.002,"y":0.004},{"x":0.0025,"y":0.009},{"x":0.003,"y":0.01},{"x":0.003,"y":0.014},{"x":0.004,"y":0.014},{"x":0.004,"y":0.019},{"x":0.005,"y":0.019},{"x":0.005,"y":0.024},{"x":0.006,"y":0.025},{"x":0.006,"y":0.029},{"x":0.008,"y":0.029},{"x":0.008,"y":0.034},{"x":0.008,"y":0.039},{"x":0.009,"y":0.029},{"x":0.009,"y":0.034},{"x":0.01,"y":0.039},{"x":0.01,"y":0.044},{"x":0.011,"y":0.045},{"x":0.019,"y":0.086},{"x":0.021,"y":0.086},{"x":0.021,"y":0.09},{"x":0.022,"y":0.09},{"x":0.022,"y":0.094},{"x":0.022,"y":0.097},{"x":0.023,"y":0.091},{"x":0.023,"y":0.097},{"x":0.023,"y":0.102},{"x":0.024,"y":0.091},{"x":0.024,"y":0.097},{"x":0.024,"y":0.107},{"x":0.025,"y":0.102},{"x":0.025,"y":0.107},{"x":0.025,"y":0.112},{"x":0.026,"y":0.102},{"x":0.026,"y":0.107},{"x":0.026,"y":0.112},{"x":0.026,"y":0.117},{"x":0.027,"y":0.112},{"x":0.027,"y":0.117},{"x":0.027,"y":0.122}],
"p10":[{"x":0,"y":-0.02},{"x":0.004,"y":0},{"x":0.008,"y":0.02},{"x":0.012,"y":0.03},{"x":0.015,"y":0.05},{"x":0.018,"y":0.06},{"x":0.06,"y":0.33},{"x":0.065,"y":0.35},{"x":0.07,"y":0.38},{"x":0.13,"y":0.85},{"x":0.132,"y":0.72},{"x":0.135,"y":0.9},{"x":0.137,"y":0.78},{"x":0.14,"y":0.95},{"x":0.142,"y":0.72},{"x":0.145,"y":0.85},{"x":0.147,"y":0.8},{"x":0.148,"y":0.7},{"x":0.15,"y":0.88},{"x":0.152,"y":0.83},{"x":0.155,"y":0.92},{"x":0.157,"y":0.78},{"x":0.16,"y":0.95},{"x":0.162,"y":0.88},{"x":0.163,"y":0.75},{"x":0.165,"y":0.97},{"x":0.168,"y":0.9},{"x":0.17,"y":0.82},{"x":0.172,"y":1},{"x":0.175,"y":1.05},{"x":0.177,"y":1.1},{"x":0.178,"y":0.93},{"x":0.18,"y":1.1},{"x":0.182,"y":0.85},{"x":0.183,"y":1.25},{"x":0.185,"y":1},{"x":0.187,"y":1.2},{"x":0.187,"y":0.79},{"x":0.19,"y":1.05},{"x":0.192,"y":0.9},{"x":0.193,"y":1},{"x":0.195,"y":1.05},{"x":0.197,"y":0.92},{"x":0.2,"y":1},{"x":0.203,"y":1.02},{"x":0.205,"y":0.95},{"x":0.21,"y":1.05},{"x":0.212,"y":1},{"x":0.215,"y":1.1},{"x":0.218,"y":1.05},{"x":0.168,"y":0.73},{"x":0.173,"y":0.92},{"x":0.18,"y":0.8},{"x":0.221,"y":1.54},{"x":0.229,"y":1.54},{"x":0.232,"y":1.25},{"x":0.235,"y":1.22},{"x":0.238,"y":1.25},{"x":0.24,"y":1.28},{"x":0.291,"y":2.26},{"x":0.29,"y":1.26},{"x":0.306,"y":3.05},{"x":0.306,"y":2.08},{"x":0.306,"y":1.43},{"x":0.31,"y":1.6},{"x":0.315,"y":1.65},{"x":0.317,"y":1.41},{"x":0.318,"y":1.72},{"x":0.322,"y":1.38},{"x":0.325,"y":1.45},{"x":0.328,"y":1.46},{"x":0.33,"y":1.48}],
"p11":[{"x":0,"y":0},{"x":0.005,"y":0.02},{"x":0.01,"y":0.03},{"x":0.02,"y":0.08},{"x":0.03,"y":0.14},{"x":0.04,"y":0.2},{"x":0.06,"y":0.3},{"x":0.08,"y":0.38},{"x":0.1,"y":0.47},{"x":0.11,"y":0.5},{"x":0.12,"y":0.54},{"x":0.13,"y":0.6},{"x":0.16,"y":0.78},{"x":0.17,"y":0.84},{"x":0.18,"y":0.92},{"x":0.185,"y":0.95},{"x":0.19,"y":1},{"x":0.195,"y":1.05},{"x":0.2,"y":1.2},{"x":0.2,"y":1.17},{"x":0.198,"y":1.12}],
"p12":[{"x":0,"y":0},{"x":0,"y":0.04},{"x":0.005,"y":0.02},{"x":0.005,"y":0.06},{"x":0.01,"y":0.04},{"x":0.01,"y":0.08},{"x":0.015,"y":0.06},{"x":0.015,"y":0.1},{"x":0.02,"y":0.08},{"x":0.02,"y":0.12},{"x":0.025,"y":0.1},{"x":0.025,"y":0.15},{"x":0.03,"y":0.12},{"x":0.03,"y":0.17},{"x":0.035,"y":0.14},{"x":0.035,"y":0.19},{"x":0.04,"y":0.16},{"x":0.04,"y":0.21},{"x":0.045,"y":0.18},{"x":0.045,"y":0.23},{"x":0.05,"y":0.2},{"x":0.05,"y":0.26},{"x":0.055,"y":0.22},{"x":0.055,"y":0.28},{"x":0.06,"y":0.24},{"x":0.06,"y":0.31},{"x":0.065,"y":0.26},{"x":0.065,"y":0.33},{"x":0.07,"y":0.28},{"x":0.07,"y":0.36},{"x":0.075,"y":0.3},{"x":0.075,"y":0.38},{"x":0.08,"y":0.33},{"x":0.08,"y":0.41},{"x":0.085,"y":0.35},{"x":0.085,"y":0.44},{"x":0.09,"y":0.37},{"x":0.09,"y":0.47},{"x":0.09,"y":0.52},{"x":0.095,"y":0.39},{"x":0.095,"y":0.49},{"x":0.095,"y":0.55},{"x":0.1,"y":0.42},{"x":0.1,"y":0.52},{"x":0.1,"y":0.58},{"x":0.105,"y":0.44},{"x":0.105,"y":0.55},{"x":0.105,"y":0.62},{"x":0.11,"y":0.46},{"x":0.11,"y":0.57},{"x":0.11,"y":0.66},{"x":0.115,"y":0.49},{"x":0.115,"y":0.6},{"x":0.115,"y":0.7},{"x":0.12,"y":0.52},{"x":0.12,"y":0.63},{"x":0.12,"y":0.72},{"x":0.125,"y":0.55},{"x":0.125,"y":0.66},{"x":0.125,"y":0.75},{"x":0.13,"y":0.58},{"x":0.13,"y":0.69},{"x":0.13,"y":0.8},{"x":0.135,"y":0.62},{"x":0.135,"y":0.72},{"x":0.135,"y":0.85},{"x":0.14,"y":0.65},{"x":0.14,"y":0.76},{"x":0.14,"y":0.9},{"x":0.14,"y":0.98},{"x":0.145,"y":0.68},{"x":0.145,"y":0.8},{"x":0.145,"y":0.93},{"x":0.145,"y":1},{"x":0.15,"y":0.72},{"x":0.15,"y":0.84},{"x":0.15,"y":0.96},{"x":0.155,"y":0.75},{"x":0.155,"y":0.87},{"x":0.155,"y":0.99},{"x":0.16,"y":0.75},{"x":0.16,"y":0.9},{"x":0.16,"y":1.05},{"x":0.165,"y":0.77},{"x":0.165,"y":0.93},{"x":0.165,"y":1.1},{"x":0.17,"y":0.78},{"x":0.17,"y":0.95},{"x":0.17,"y":1.12},{"x":0.17,"y":1.3},{"x":0.175,"y":0.8},{"x":0.175,"y":1},{"x":0.175,"y":1.2},{"x":0.175,"y":1.4},{"x":0.18,"y":0.82},{"x":0.18,"y":1.02},{"x":0.18,"y":1.22},{"x":0.18,"y":1.45},{"x":0.185,"y":0.85},{"x":0.185,"y":1.05},{"x":0.185,"y":1.25},{"x":0.185,"y":1.5},{"x":0.185,"y":1.7},{"x":0.19,"y":0.85},{"x":0.19,"y":1.1},{"x":0.19,"y":1.3},{"x":0.19,"y":1.55},{"x":0.19,"y":1.8},{"x":0.195,"y":0.88},{"x":0.195,"y":1.12},{"x":0.195,"y":1.35},{"x":0.195,"y":1.6},{"x":0.195,"y":1.85},{"x":0.2,"y":0.9},{"x":0.2,"y":1.15},{"x":0.2,"y":1.4},{"x":0.2,"y":1.65},{"x":0.2,"y":1.9},{"x":0.205,"y":0.9},{"x":0.205,"y":1.15},{"x":0.205,"y":1.4},{"x":0.205,"y":1.65},{"x":0.205,"y":1.9},{"x":0.205,"y":2.1},{"x":0.21,"y":0.85},{"x":0.21,"y":1.1},{"x":0.21,"y":1.35},{"x":0.21,"y":1.6},{"x":0.21,"y":1.85},{"x":0.21,"y":2.1},{"x":0.21,"y":2.35},{"x":0.215,"y":0.85},{"x":0.215,"y":1.1},{"x":0.215,"y":1.35},{"x":0.215,"y":1.6},{"x":0.215,"y":1.85},{"x":0.215,"y":2.1},{"x":0.215,"y":2.35},{"x":0.215,"y":2.6},{"x":0.22,"y":0.85},{"x":0.22,"y":1.1},{"x":0.22,"y":1.35},{"x":0.22,"y":1.6},{"x":0.22,"y":1.85},{"x":0.22,"y":2.1},{"x":0.22,"y":2.35},{"x":0.22,"y":2.6},{"x":0.22,"y":2.9},{"x":0.225,"y":0.9},{"x":0.225,"y":1.15},{"x":0.225,"y":1.4},{"x":0.225,"y":1.65},{"x":0.225,"y":1.9},{"x":0.225,"y":2.15},{"x":0.225,"y":2.4},{"x":0.225,"y":2.7},{"x":0.225,"y":3},{"x":0.225,"y":3.3},{"x":0.23,"y":0.95},{"x":0.23,"y":1.2},{"x":0.23,"y":1.45},{"x":0.23,"y":1.7},{"x":0.23,"y":1.95},{"x":0.23,"y":2.2},{"x":0.23,"y":2.45},{"x":0.23,"y":2.75},{"x":0.23,"y":3.05},{"x":0.23,"y":3.4},{"x":0.235,"y":1},{"x":0.235,"y":1.25},{"x":0.235,"y":1.5},{"x":0.235,"y":1.75},{"x":0.235,"y":2},{"x":0.235,"y":2.25},{"x":0.235,"y":2.5},{"x":0.235,"y":2.8},{"x":0.235,"y":3.1},{"x":0.24,"y":1.05},{"x":0.24,"y":1.3},{"x":0.24,"y":1.55},{"x":0.24,"y":1.8},{"x":0.24,"y":2.05},{"x":0.24,"y":2.3},{"x":0.24,"y":2.55},{"x":0.24,"y":2.85},{"x":0.245,"y":1.1},{"x":0.245,"y":1.35},{"x":0.245,"y":1.6},{"x":0.245,"y":1.85},{"x":0.245,"y":2.1},{"x":0.245,"y":2.35},{"x":0.245,"y":2.6},{"x":0.25,"y":1.2},{"x":0.25,"y":1.45},{"x":0.25,"y":1.7},{"x":0.25,"y":1.95},{"x":0.25,"y":2.2},{"x":0.25,"y":2.45},{"x":0.255,"y":1.3},{"x":0.255,"y":1.55},{"x":0.255,"y":1.8},{"x":0.255,"y":2.05},{"x":0.255,"y":2.3},{"x":0.26,"y":1.4},{"x":0.26,"y":1.65},{"x":0.26,"y":1.9},{"x":0.26,"y":2.15},{"x":0.26,"y":2.4},
{"x":0.1025,"y":0.47},{"x":0.1025,"y":0.55},{"x":0.1125,"y":0.52},{"x":0.1125,"y":0.62},{"x":0.1225,"y":0.57},{"x":0.1225,"y":0.68},{"x":0.1325,"y":0.63},{"x":0.1325,"y":0.75},{"x":0.1425,"y":0.7},{"x":0.1425,"y":0.83},{"x":0.1425,"y":0.95},{"x":0.1525,"y":0.78},{"x":0.1525,"y":0.9},{"x":0.1625,"y":0.82},{"x":0.1625,"y":0.97},{"x":0.1725,"y":0.87},{"x":0.1725,"y":1.05},{"x":0.1725,"y":1.22},{"x":0.1775,"y":0.9},{"x":0.1775,"y":1.1},{"x":0.1775,"y":1.3},{"x":0.1825,"y":0.92},{"x":0.1825,"y":1.12},{"x":0.1825,"y":1.35},{"x":0.1825,"y":1.58},{"x":0.1875,"y":0.95},{"x":0.1875,"y":1.17},{"x":0.1875,"y":1.38},{"x":0.1875,"y":1.6},{"x":0.1925,"y":0.98},{"x":0.1925,"y":1.2},{"x":0.1925,"y":1.42},{"x":0.1925,"y":1.68},{"x":0.1975,"y":1},{"x":0.1975,"y":1.25},{"x":0.1975,"y":1.48},{"x":0.1975,"y":1.72},{"x":0.2025,"y":1.02},{"x":0.2025,"y":1.27},{"x":0.2025,"y":1.52},{"x":0.2025,"y":1.78},{"x":0.2025,"y":2},{"x":0.2075,"y":1},{"x":0.2075,"y":1.25},{"x":0.2075,"y":1.5},{"x":0.2075,"y":1.75},{"x":0.2075,"y":2},{"x":0.2075,"y":2.22},{"x":0.2125,"y":0.98},{"x":0.2125,"y":1.22},{"x":0.2125,"y":1.48},{"x":0.2125,"y":1.72},{"x":0.2125,"y":1.98},{"x":0.2125,"y":2.22},{"x":0.2125,"y":2.48},{"x":0.2175,"y":0.98},{"x":0.2175,"y":1.22},{"x":0.2175,"y":1.48},{"x":0.2175,"y":1.72},{"x":0.2175,"y":1.98},{"x":0.2175,"y":2.22},{"x":0.2175,"y":2.48},{"x":0.2175,"y":2.75},{"x":0.2225,"y":1},{"x":0.2225,"y":1.25},{"x":0.2225,"y":1.5},{"x":0.2225,"y":1.75},{"x":0.2225,"y":2},{"x":0.2225,"y":2.25},{"x":0.2225,"y":2.5},{"x":0.2225,"y":2.78},{"x":0.2225,"y":3.05},{"x":0.2275,"y":1.05},{"x":0.2275,"y":1.3},{"x":0.2275,"y":1.55},{"x":0.2275,"y":1.8},{"x":0.2275,"y":2.05},{"x":0.2275,"y":2.3},{"x":0.2275,"y":2.58},{"x":0.2275,"y":2.88},{"x":0.2275,"y":3.2},{"x":0.2325,"y":1.1},{"x":0.2325,"y":1.35},{"x":0.2325,"y":1.6},{"x":0.2325,"y":1.85},{"x":0.2325,"y":2.1},{"x":0.2325,"y":2.35},{"x":0.2325,"y":2.62},{"x":0.2325,"y":2.92},{"x":0.2325,"y":3.25},{"x":0.2375,"y":1.15},{"x":0.2375,"y":1.4},{"x":0.2375,"y":1.65},{"x":0.2375,"y":1.9},{"x":0.2375,"y":2.15},{"x":0.2375,"y":2.4},{"x":0.2375,"y":2.7},{"x":0.2375,"y":2.98},{"x":0.2425,"y":1.2},{"x":0.2425,"y":1.45},{"x":0.2425,"y":1.7},{"x":0.2425,"y":1.95},{"x":0.2425,"y":2.2},{"x":0.2425,"y":2.45},{"x":0.2425,"y":2.72},{"x":0.2475,"y":1.3},{"x":0.2475,"y":1.55},{"x":0.2475,"y":1.8},{"x":0.2475,"y":2.05},{"x":0.2475,"y":2.3},{"x":0.2475,"y":2.55},{"x":0.2525,"y":1.4},{"x":0.2525,"y":1.65},{"x":0.2525,"y":1.9},{"x":0.2525,"y":2.15},{"x":0.2525,"y":2.4},{"x":0.2575,"y":1.5},{"x":0.2575,"y":1.75},{"x":0.2575,"y":2},{"x":0.2575,"y":2.25},
{"x":0.22,"y":3.2},{"x":0.222,"y":4.02},{"x":0.228,"y":4.9},{"x":0.237,"y":4.9},{"x":0.25,"y":4.9},{"x":0.232,"y":4.39},{"x":0.244,"y":4.39},{"x":0.262,"y":4.39},{"x":0.228,"y":3.6},{"x":0.232,"y":3.8},{"x":0.24,"y":3.4},{"x":0.245,"y":3.2},{"x":0.25,"y":3},{"x":0.255,"y":2.7},{"x":0.26,"y":3.3},{"x":0.265,"y":3.2},{"x":0.27,"y":2.9},{"x":0.272,"y":3.55},{"x":0.275,"y":2.6},{"x":0.278,"y":2.4},{"x":0.28,"y":3.3},{"x":0.281,"y":5.2},{"x":0.281,"y":4.5},{"x":0.282,"y":4.1},{"x":0.282,"y":3.7},{"x":0.285,"y":2.8},{"x":0.29,"y":1.95},{"x":0.296,"y":1.88},{"x":0.265,"y":1.6},{"x":0.262,"y":1.5},{"x":0.268,"y":2},{"x":0.27,"y":2.3},{"x":0.21,"y":2.6},{"x":0.215,"y":3.1}],
"p13":[{"x":0,"y":-0.02},{"x":0.003,"y":0},{"x":0.006,"y":0.02},{"x":0.01,"y":0.04},{"x":0.015,"y":0.06},{"x":0.02,"y":0.08},{"x":0.025,"y":0.1},{"x":0.03,"y":0.12},{"x":0.035,"y":0.14},{"x":0.04,"y":0.15},{"x":0.05,"y":0.18},{"x":0.06,"y":0.22},{"x":0.07,"y":0.27},{"x":0.08,"y":0.33},{"x":0.09,"y":0.4},{"x":0.1,"y":0.47},{"x":0.11,"y":0.55},{"x":0.12,"y":0.62},{"x":0.15,"y":0.95},{"x":0.153,"y":1},{"x":0.155,"y":0.92},{"x":0.158,"y":1.05},{"x":0.16,"y":0.98},{"x":0.162,"y":1.1},{"x":0.165,"y":1.02},{"x":0.167,"y":1.15},{"x":0.17,"y":1.05},{"x":0.172,"y":1.2},{"x":0.175,"y":1.1},{"x":0.177,"y":1.3},{"x":0.178,"y":1},{"x":0.18,"y":1.25},{"x":0.182,"y":1.4},{"x":0.183,"y":1.15},{"x":0.185,"y":1.5},{"x":0.186,"y":1.3},{"x":0.188,"y":1.65},{"x":0.19,"y":1.45},{"x":0.19,"y":1.2},{"x":0.192,"y":1.7},{"x":0.193,"y":1.55},{"x":0.195,"y":1.85},{"x":0.195,"y":1.35},{"x":0.197,"y":1.6},{"x":0.198,"y":1.95},{"x":0.2,"y":1.75},{"x":0.2,"y":1.5},{"x":0.202,"y":2.1},{"x":0.203,"y":1.65},{"x":0.205,"y":1.9},{"x":0.205,"y":1.4},{"x":0.207,"y":2.2},{"x":0.208,"y":1.8},{"x":0.21,"y":2},{"x":0.21,"y":1.6},{"x":0.212,"y":2.4},{"x":0.213,"y":1.75},{"x":0.215,"y":2.6},{"x":0.215,"y":1.95},{"x":0.218,"y":2.2},{"x":0.22,"y":2.3},{"x":0.22,"y":1.7},{"x":0.185,"y":1.05},{"x":0.18,"y":0.95},{"x":0.17,"y":1.25},{"x":0.218,"y":3.25},{"x":0.225,"y":2.5},{"x":0.23,"y":2.1},{"x":0.24,"y":2.55},{"x":0.245,"y":2.3},{"x":0.252,"y":3.78},{"x":0.25,"y":2.6},{"x":0.235,"y":1.8},{"x":0.213,"y":2.9},{"x":0.208,"y":2.75}],
"p14":[{"x":0,"y":0},{"x":0.005,"y":0.02},{"x":0.01,"y":0.03},{"x":0.05,"y":0.2},{"x":0.055,"y":0.22},{"x":0.06,"y":0.24},{"x":0.065,"y":0.26},{"x":0.07,"y":0.27},{"x":0.075,"y":0.3},{"x":0.078,"y":0.26},{"x":0.082,"y":0.32},{"x":0.085,"y":0.34},{"x":0.088,"y":0.3},{"x":0.09,"y":0.37},{"x":0.095,"y":0.4},{"x":0.1,"y":0.44},{"x":0.105,"y":0.47},{"x":0.12,"y":0.6},{"x":0.126,"y":0.58},{"x":0.13,"y":0.72},{"x":0.135,"y":0.55},{"x":0.14,"y":0.78},{"x":0.145,"y":0.68},{"x":0.148,"y":0.82},{"x":0.156,"y":0.62},{"x":0.156,"y":0.69},{"x":0.155,"y":0.9},{"x":0.158,"y":0.97},{"x":0.16,"y":1.02},{"x":0.165,"y":1},{"x":0.17,"y":1.1},{"x":0.172,"y":1.12},{"x":0.175,"y":1.15},{"x":0.18,"y":0.9},{"x":0.183,"y":0.95},{"x":0.185,"y":0.87},{"x":0.183,"y":1.3},{"x":0.186,"y":1.25},{"x":0.189,"y":1.35},{"x":0.19,"y":1.6},{"x":0.195,"y":1.55},{"x":0.196,"y":1.45},{"x":0.2,"y":1.65},{"x":0.205,"y":1.25},{"x":0.209,"y":1.83},{"x":0.215,"y":1.5},{"x":0.22,"y":1.45},{"x":0.23,"y":1.55},{"x":0.24,"y":1.95},{"x":0.245,"y":2},{"x":0.25,"y":2.1}],
"p15":[{"x":0,"y":-0.05},{"x":0,"y":0},{"x":0,"y":0.03},{"x":0.005,"y":-0.02},{"x":0.005,"y":0.02},{"x":0.005,"y":0.05},{"x":0.01,"y":0},{"x":0.01,"y":0.04},{"x":0.01,"y":0.08},{"x":0.015,"y":0.03},{"x":0.015,"y":0.07},{"x":0.015,"y":0.11},{"x":0.02,"y":0.05},{"x":0.02,"y":0.1},{"x":0.02,"y":0.14},{"x":0.025,"y":0.07},{"x":0.025,"y":0.12},{"x":0.025,"y":0.17},{"x":0.03,"y":0.1},{"x":0.03,"y":0.15},{"x":0.03,"y":0.2},{"x":0.035,"y":0.12},{"x":0.035,"y":0.17},{"x":0.035,"y":0.22},{"x":0.04,"y":0.14},{"x":0.04,"y":0.19},{"x":0.04,"y":0.25},{"x":0.045,"y":0.16},{"x":0.045,"y":0.21},{"x":0.045,"y":0.27},{"x":0.05,"y":0.18},{"x":0.05,"y":0.23},{"x":0.05,"y":0.29},{"x":0.055,"y":0.2},{"x":0.055,"y":0.26},{"x":0.055,"y":0.31},{"x":0.06,"y":0.22},{"x":0.06,"y":0.28},{"x":0.06,"y":0.33},{"x":0.065,"y":0.24},{"x":0.065,"y":0.3},{"x":0.065,"y":0.35},{"x":0.07,"y":0.27},{"x":0.07,"y":0.32},{"x":0.07,"y":0.37},{"x":0.075,"y":0.29},{"x":0.075,"y":0.34},{"x":0.075,"y":0.39},{"x":0.08,"y":0.32},{"x":0.08,"y":0.37},{"x":0.08,"y":0.41},{"x":0.085,"y":0.34},{"x":0.085,"y":0.39},{"x":0.085,"y":0.43},{"x":0.09,"y":0.37},{"x":0.09,"y":0.41},{"x":0.09,"y":0.45},{"x":0.1,"y":0.42},{"x":0.1,"y":0.47},{"x":0.11,"y":0.46},{"x":0.11,"y":0.52},{"x":0.14,"y":0.75},{"x":0.14,"y":0.85},{"x":0.14,"y":0.95},{"x":0.145,"y":0.7},{"x":0.145,"y":0.8},{"x":0.145,"y":0.9},{"x":0.145,"y":1},{"x":0.15,"y":0.7},{"x":0.15,"y":0.8},{"x":0.15,"y":0.9},{"x":0.15,"y":1},{"x":0.15,"y":1.05},{"x":0.155,"y":0.72},{"x":0.155,"y":0.82},{"x":0.155,"y":0.92},{"x":0.155,"y":1.02},{"x":0.155,"y":1.1},{"x":0.16,"y":0.75},{"x":0.16,"y":0.85},{"x":0.16,"y":0.95},{"x":0.16,"y":1.05},{"x":0.16,"y":1.15},{"x":0.165,"y":0.78},{"x":0.165,"y":0.88},{"x":0.165,"y":0.98},{"x":0.165,"y":1.08},{"x":0.165,"y":1.2},{"x":0.17,"y":0.8},{"x":0.17,"y":0.9},{"x":0.17,"y":1},{"x":0.17,"y":1.1},{"x":0.17,"y":1.25},{"x":0.175,"y":0.85},{"x":0.175,"y":0.95},{"x":0.175,"y":1.05},{"x":0.175,"y":1.15},{"x":0.175,"y":1.3},{"x":0.18,"y":0.88},{"x":0.18,"y":1},{"x":0.18,"y":1.1},{"x":0.18,"y":1.2},{"x":0.18,"y":1.33},{"x":0.185,"y":0.9},{"x":0.185,"y":1.05},{"x":0.185,"y":1.2},
{"x":0.1425,"y":0.8},{"x":0.1425,"y":0.9},{"x":0.1475,"y":0.75},{"x":0.1475,"y":0.85},{"x":0.1475,"y":0.95},{"x":0.1525,"y":0.75},{"x":0.1525,"y":0.85},{"x":0.1525,"y":0.95},{"x":0.1525,"y":1.05},{"x":0.1575,"y":0.78},{"x":0.1575,"y":0.88},{"x":0.1575,"y":0.98},{"x":0.1575,"y":1.08},{"x":0.1625,"y":0.8},{"x":0.1625,"y":0.9},{"x":0.1625,"y":1},{"x":0.1625,"y":1.1},{"x":0.1675,"y":0.83},{"x":0.1675,"y":0.93},{"x":0.1675,"y":1.03},{"x":0.1675,"y":1.13},{"x":0.1675,"y":1.22},{"x":0.1725,"y":0.85},{"x":0.1725,"y":0.95},{"x":0.1725,"y":1.05},{"x":0.1725,"y":1.2},{"x":0.1775,"y":0.9},{"x":0.1775,"y":1},{"x":0.1775,"y":1.1},{"x":0.1775,"y":1.25},{"x":0.1825,"y":0.95},{"x":0.1825,"y":1.1},{"x":0.1825,"y":1.25},
{"x":0.17,"y":0.6},{"x":0.175,"y":0.65},{"x":0.18,"y":0.62},{"x":0.185,"y":0.68},{"x":0.19,"y":0.7},{"x":0.195,"y":0.72},{"x":0.2,"y":0.75},{"x":0.205,"y":0.8},{"x":0.21,"y":0.85},{"x":0.215,"y":0.9},{"x":0.22,"y":0.92},{"x":0.225,"y":0.97},{"x":0.23,"y":1.05},{"x":0.235,"y":1.1},{"x":0.24,"y":1.2},{"x":0.19,"y":0.8},{"x":0.2,"y":0.65},{"x":0.21,"y":0.72},{"x":0.22,"y":0.8},{"x":0.23,"y":0.9},{"x":0.24,"y":1.6},{"x":0.242,"y":1.8},{"x":0.245,"y":1.75},{"x":0.248,"y":2},{"x":0.25,"y":2.1},{"x":0.252,"y":2.2},{"x":0.254,"y":1.9},{"x":0.256,"y":2.25},{"x":0.258,"y":2.15},{"x":0.26,"y":2.3},{"x":0.262,"y":2},{"x":0.26,"y":2.55},{"x":0.262,"y":2.7},{"x":0.262,"y":2.78},{"x":0.26,"y":3.18},{"x":0.255,"y":2.4},{"x":0.25,"y":1.85},{"x":0.245,"y":1.55}],
"f1":[{"m":"l","b":"alt","x":0,"y":-0.687},{"m":"l","b":"alt","x":0.2542,"y":2.432},{"m":"q","b":"alt","x":0,"y":0.29},{"m":"q","b":"alt","x":0.03,"y":0.235},{"m":"q","b":"alt","x":0.06,"y":0.281},{"m":"q","b":"alt","x":0.09,"y":0.428},{"m":"q","b":"alt","x":0.12,"y":0.677},{"m":"q","b":"alt","x":0.15,"y":1.027},{"m":"q","b":"alt","x":0.18,"y":1.477},{"m":"q","b":"alt","x":0.21,"y":2.029},{"m":"q","b":"alt","x":0.24,"y":2.682},{"m":"q","b":"alt","x":0.2542,"y":3.03},{"m":"c","b":"best","x":0,"y":-0.22},{"m":"c","b":"best","x":0.02,"y":0.165},{"m":"c","b":"best","x":0.04,"y":0.4},{"m":"c","b":"best","x":0.06,"y":0.53},{"m":"c","b":"best","x":0.08,"y":0.59},{"m":"c","b":"best","x":0.1,"y":0.62},{"m":"c","b":"best","x":0.12,"y":0.66},{"m":"c","b":"best","x":0.14,"y":0.75},{"m":"c","b":"best","x":0.16,"y":0.92},{"m":"c","b":"best","x":0.18,"y":1.2},{"m":"c","b":"best","x":0.2,"y":1.62},{"m":"c","b":"best","x":0.22,"y":2.3},{"m":"c","b":"best","x":0.24,"y":3.25},{"m":"c","b":"best","x":0.2542,"y":4.1}],
"f2":[{"m":"l","b":"alt","x":-0.00455,"y":-0.053},{"m":"l","b":"alt","x":0.1691,"y":1.027},{"m":"q","b":"alt","x":0,"y":0},{"m":"q","b":"alt","x":0.025,"y":0.105},{"m":"q","b":"alt","x":0.05,"y":0.23},{"m":"q","b":"alt","x":0.075,"y":0.365},{"m":"q","b":"alt","x":0.1,"y":0.52},{"m":"q","b":"alt","x":0.125,"y":0.71},{"m":"q","b":"alt","x":0.15,"y":0.955},{"m":"q","b":"alt","x":0.1691,"y":1.17},{"m":"c","b":"best","x":0,"y":0},{"m":"c","b":"best","x":0.025,"y":0.115},{"m":"c","b":"best","x":0.05,"y":0.24},{"m":"c","b":"best","x":0.075,"y":0.375},{"m":"c","b":"best","x":0.1,"y":0.53},{"m":"c","b":"best","x":0.125,"y":0.72},{"m":"c","b":"best","x":0.15,"y":0.96},{"m":"c","b":"best","x":0.1691,"y":1.17}],
"f3":[{"m":"l","b":"alt","x":-0.0039,"y":-0.159},{"m":"l","b":"alt","x":0.1833,"y":1.069},{"m":"q","b":"alt","x":0,"y":-0.01},{"m":"q","b":"alt","x":0.03,"y":0.103},{"m":"q","b":"alt","x":0.06,"y":0.251},{"m":"q","b":"alt","x":0.09,"y":0.432},{"m":"q","b":"alt","x":0.12,"y":0.647},{"m":"q","b":"alt","x":0.15,"y":0.896},{"m":"q","b":"alt","x":0.1833,"y":1.21},{"m":"c","b":"best","x":0,"y":0.025},{"m":"c","b":"best","x":0.025,"y":0.065},{"m":"c","b":"best","x":0.05,"y":0.165},{"m":"c","b":"best","x":0.075,"y":0.32},{"m":"c","b":"best","x":0.1,"y":0.5},{"m":"c","b":"best","x":0.125,"y":0.71},{"m":"c","b":"best","x":0.15,"y":0.94},{"m":"c","b":"best","x":0.1833,"y":1.17}],
"f4":[{"m":"l","b":"best","x":-0.012,"y":-0.177},{"m":"l","b":"best","x":0.2888,"y":1.95},{"m":"q","b":"alt","x":-0.012,"y":-0.177},{"m":"q","b":"alt","x":0.2888,"y":1.95},{"m":"c","b":"alt","x":-0.012,"y":-0.17},{"m":"c","b":"alt","x":0.05,"y":0.26},{"m":"c","b":"alt","x":0.1,"y":0.615},{"m":"c","b":"alt","x":0.15,"y":0.97},{"m":"c","b":"alt","x":0.2,"y":1.31},{"m":"c","b":"alt","x":0.225,"y":1.46},{"m":"c","b":"alt","x":0.25,"y":1.58},{"m":"c","b":"alt","x":0.27,"y":1.65},{"m":"c","b":"alt","x":0.2888,"y":1.685}],
"f5":[{"m":"l","b":"alt","x":0,"y":-0.448},{"m":"l","b":"alt","x":0.2916,"y":2.249},{"m":"q","b":"alt","x":0,"y":0.27},{"m":"q","b":"alt","x":0.03,"y":0.259},{"m":"q","b":"alt","x":0.06,"y":0.317},{"m":"q","b":"alt","x":0.09,"y":0.443},{"m":"q","b":"alt","x":0.12,"y":0.637},{"m":"q","b":"alt","x":0.15,"y":0.899},{"m":"q","b":"alt","x":0.18,"y":1.23},{"m":"q","b":"alt","x":0.21,"y":1.628},{"m":"q","b":"alt","x":0.24,"y":2.095},{"m":"q","b":"alt","x":0.2916,"y":3.058},{"m":"c","b":"best","x":0,"y":-0.1},{"m":"c","b":"best","x":0.025,"y":0.1},{"m":"c","b":"best","x":0.05,"y":0.28},{"m":"c","b":"best","x":0.075,"y":0.42},{"m":"c","b":"best","x":0.1,"y":0.55},{"m":"c","b":"best","x":0.125,"y":0.7},{"m":"c","b":"best","x":0.15,"y":0.88},{"m":"c","b":"best","x":0.175,"y":1.12},{"m":"c","b":"best","x":0.2,"y":1.43},{"m":"c","b":"best","x":0.225,"y":1.88},{"m":"c","b":"best","x":0.25,"y":2.45},{"m":"c","b":"best","x":0.275,"y":3.1},{"m":"c","b":"best","x":0.2916,"y":3.63}],
"f6":[{"m":"l","b":"alt","x":-0.0095,"y":-0.083},{"m":"l","b":"alt","x":0.2493,"y":1.371},{"m":"q","b":"alt","x":0,"y":-0.02},{"m":"q","b":"alt","x":0.05,"y":0.24},{"m":"q","b":"alt","x":0.1,"y":0.52},{"m":"q","b":"alt","x":0.15,"y":0.8},{"m":"q","b":"alt","x":0.2,"y":1.1},{"m":"q","b":"alt","x":0.2493,"y":1.43},{"m":"c","b":"best","x":0,"y":0},{"m":"c","b":"best","x":0.025,"y":0.09},{"m":"c","b":"best","x":0.05,"y":0.21},{"m":"c","b":"best","x":0.075,"y":0.37},{"m":"c","b":"best","x":0.1,"y":0.54},{"m":"c","b":"best","x":0.125,"y":0.71},{"m":"c","b":"best","x":0.15,"y":0.86},{"m":"c","b":"best","x":0.175,"y":0.98},{"m":"c","b":"best","x":0.2,"y":1.06},{"m":"c","b":"best","x":0.225,"y":1.11},{"m":"c","b":"best","x":0.24,"y":1.125},{"m":"c","b":"best","x":0.2493,"y":1.115}],
"f7":[{"m":"l","b":"alt","x":0,"y":-0.155},{"m":"l","b":"alt","x":0.2429,"y":1.489},{"m":"q","b":"alt","x":0,"y":-0.03},{"m":"q","b":"alt","x":0.04,"y":0.128},{"m":"q","b":"alt","x":0.08,"y":0.342},{"m":"q","b":"alt","x":0.12,"y":0.612},{"m":"q","b":"alt","x":0.16,"y":0.937},{"m":"q","b":"alt","x":0.2,"y":1.319},{"m":"q","b":"alt","x":0.2429,"y":1.79},{"m":"c","b":"best","x":0,"y":0.04},{"m":"c","b":"best","x":0.025,"y":0.08},{"m":"c","b":"best","x":0.05,"y":0.17},{"m":"c","b":"best","x":0.075,"y":0.31},{"m":"c","b":"best","x":0.1,"y":0.49},{"m":"c","b":"best","x":0.125,"y":0.67},{"m":"c","b":"best","x":0.15,"y":0.86},{"m":"c","b":"best","x":0.175,"y":1.08},{"m":"c","b":"best","x":0.2,"y":1.27},{"m":"c","b":"best","x":0.22,"y":1.4},{"m":"c","b":"best","x":0.2429,"y":1.49}],
"f8":[{"m":"l","b":"alt","x":-0.0151,"y":-0.137},{"m":"l","b":"alt","x":0.3645,"y":2.039},{"m":"q","b":"best","x":0,"y":0},{"m":"q","b":"best","x":0.05,"y":0.154},{"m":"q","b":"best","x":0.1,"y":0.36},{"m":"q","b":"best","x":0.15,"y":0.618},{"m":"q","b":"best","x":0.2,"y":0.929},{"m":"q","b":"best","x":0.25,"y":1.292},{"m":"q","b":"best","x":0.3,"y":1.707},{"m":"q","b":"best","x":0.3645,"y":2.32},{"m":"c","b":"alt","x":0,"y":0},{"m":"c","b":"alt","x":0.1,"y":0.365},{"m":"c","b":"alt","x":0.2,"y":0.94},{"m":"c","b":"alt","x":0.3,"y":1.72},{"m":"c","b":"alt","x":0.3645,"y":2.28}],
"f9":[{"m":"l","b":"best","x":-0.001166,"y":-0.0048},{"m":"l","b":"best","x":0.02813,"y":0.1202},{"m":"q","b":"alt","x":-0.001166,"y":-0.0048},{"m":"q","b":"alt","x":0.02813,"y":0.1202},{"m":"c","b":"alt","x":-0.001166,"y":-0.0048},{"m":"c","b":"alt","x":0.02813,"y":0.1202}],
"f10":[{"m":"l","b":"alt","x":-0.014,"y":-0.096},{"m":"l","b":"alt","x":0.3388,"y":1.826},{"m":"q","b":"best","x":0,"y":-0.03},{"m":"q","b":"best","x":0.05,"y":0.284},{"m":"q","b":"best","x":0.1,"y":0.58},{"m":"q","b":"best","x":0.15,"y":0.857},{"m":"q","b":"best","x":0.2,"y":1.117},{"m":"q","b":"best","x":0.25,"y":1.357},{"m":"q","b":"best","x":0.3,"y":1.58},{"m":"q","b":"best","x":0.3388,"y":1.74},{"m":"c","b":"alt","x":0,"y":-0.03},{"m":"c","b":"alt","x":0.1,"y":0.58},{"m":"c","b":"alt","x":0.2,"y":1.11},{"m":"c","b":"alt","x":0.3,"y":1.6},{"m":"c","b":"alt","x":0.3388,"y":1.78}],
"f11":[{"m":"l","b":"alt","x":-0.0053,"y":-0.07},{"m":"l","b":"alt","x":0.2066,"y":1.148},{"m":"q","b":"alt","x":0,"y":0},{"m":"q","b":"alt","x":0.05,"y":0.215},{"m":"q","b":"alt","x":0.1,"y":0.47},{"m":"q","b":"alt","x":0.15,"y":0.765},{"m":"q","b":"alt","x":0.2,"y":1.1},{"m":"q","b":"alt","x":0.2066,"y":1.147},{"m":"c","b":"best","x":0,"y":-0.04},{"m":"c","b":"best","x":0.025,"y":0.13},{"m":"c","b":"best","x":0.05,"y":0.26},{"m":"c","b":"best","x":0.075,"y":0.36},{"m":"c","b":"best","x":0.1,"y":0.46},{"m":"c","b":"best","x":0.125,"y":0.57},{"m":"c","b":"best","x":0.15,"y":0.71},{"m":"c","b":"best","x":0.175,"y":0.9},{"m":"c","b":"best","x":0.2,"y":1.15},{"m":"c","b":"best","x":0.2066,"y":1.23}],
"f12":[{"m":"l","b":"alt","x":0,"y":-0.303},{"m":"l","b":"alt","x":0.3136,"y":2.378},{"m":"q","b":"alt","x":0,"y":0.05},{"m":"q","b":"alt","x":0.05,"y":0.23},{"m":"q","b":"alt","x":0.1,"y":0.53},{"m":"q","b":"alt","x":0.15,"y":0.95},{"m":"q","b":"alt","x":0.2,"y":1.49},{"m":"q","b":"alt","x":0.25,"y":2.15},{"m":"q","b":"alt","x":0.3136,"y":3.16},{"m":"c","b":"best","x":0,"y":0.03},{"m":"c","b":"best","x":0.025,"y":0.11},{"m":"c","b":"best","x":0.05,"y":0.22},{"m":"c","b":"best","x":0.075,"y":0.36},{"m":"c","b":"best","x":0.1,"y":0.52},{"m":"c","b":"best","x":0.125,"y":0.72},{"m":"c","b":"best","x":0.15,"y":0.94},{"m":"c","b":"best","x":0.175,"y":1.22},{"m":"c","b":"best","x":0.2,"y":1.55},{"m":"c","b":"best","x":0.225,"y":1.9},{"m":"c","b":"best","x":0.25,"y":2.3},{"m":"c","b":"best","x":0.275,"y":2.75},{"m":"c","b":"best","x":0.3,"y":3.17},{"m":"c","b":"best","x":0.3136,"y":3.39}],
"f13":[{"m":"l","b":"alt","x":0,"y":-0.285},{"m":"l","b":"alt","x":0.2624,"y":2.14},{"m":"q","b":"alt","x":0,"y":0.13},{"m":"q","b":"alt","x":0.03,"y":0.123},{"m":"q","b":"alt","x":0.06,"y":0.197},{"m":"q","b":"alt","x":0.09,"y":0.351},{"m":"q","b":"alt","x":0.12,"y":0.586},{"m":"q","b":"alt","x":0.15,"y":0.9},{"m":"q","b":"alt","x":0.18,"y":1.297},{"m":"q","b":"alt","x":0.21,"y":1.774},{"m":"q","b":"alt","x":0.24,"y":2.331},{"m":"q","b":"alt","x":0.2624,"y":2.7},{"m":"c","b":"best","x":0,"y":-0.02},{"m":"c","b":"best","x":0.025,"y":0.09},{"m":"c","b":"best","x":0.05,"y":0.18},{"m":"c","b":"best","x":0.075,"y":0.3},{"m":"c","b":"best","x":0.1,"y":0.49},{"m":"c","b":"best","x":0.125,"y":0.7},{"m":"c","b":"best","x":0.15,"y":0.95},{"m":"c","b":"best","x":0.175,"y":1.25},{"m":"c","b":"best","x":0.2,"y":1.62},{"m":"c","b":"best","x":0.225,"y":2.1},{"m":"c","b":"best","x":0.25,"y":2.8},{"m":"c","b":"best","x":0.2624,"y":3.2}],
"f14":[{"m":"l","b":"alt","x":0,"y":-0.154},{"m":"l","b":"alt","x":0.256,"y":1.687},{"m":"q","b":"best","x":0,"y":0.04},{"m":"q","b":"best","x":0.025,"y":0.103},{"m":"q","b":"best","x":0.05,"y":0.195},{"m":"q","b":"best","x":0.075,"y":0.313},{"m":"q","b":"best","x":0.1,"y":0.46},{"m":"q","b":"best","x":0.125,"y":0.634},{"m":"q","b":"best","x":0.15,"y":0.836},{"m":"q","b":"best","x":0.175,"y":1.066},{"m":"q","b":"best","x":0.2,"y":1.323},{"m":"q","b":"best","x":0.225,"y":1.608},{"m":"q","b":"best","x":0.256,"y":2},{"m":"c","b":"alt","x":0,"y":0.03},{"m":"c","b":"alt","x":0.05,"y":0.19},{"m":"c","b":"alt","x":0.1,"y":0.45},{"m":"c","b":"alt","x":0.15,"y":0.83},{"m":"c","b":"alt","x":0.2,"y":1.32},{"m":"c","b":"alt","x":0.23,"y":1.65},{"m":"c","b":"alt","x":0.256,"y":2.07}],
"f15":[{"m":"l","b":"alt","x":-0.0093,"y":-0.1},{"m":"l","b":"alt","x":0.2743,"y":1.571},{"m":"q","b":"alt","x":0,"y":0.05},{"m":"q","b":"alt","x":0.04,"y":0.152},{"m":"q","b":"alt","x":0.08,"y":0.315},{"m":"q","b":"alt","x":0.12,"y":0.54},{"m":"q","b":"alt","x":0.16,"y":0.828},{"m":"q","b":"alt","x":0.2,"y":1.177},{"m":"q","b":"alt","x":0.24,"y":1.588},{"m":"q","b":"alt","x":0.2743,"y":1.99},{"m":"c","b":"best","x":0,"y":-0.07},{"m":"c","b":"best","x":0.025,"y":0.09},{"m":"c","b":"best","x":0.05,"y":0.23},{"m":"c","b":"best","x":0.075,"y":0.37},{"m":"c","b":"best","x":0.1,"y":0.48},{"m":"c","b":"best","x":0.125,"y":0.58},{"m":"c","b":"best","x":0.15,"y":0.7},{"m":"c","b":"best","x":0.175,"y":0.87},{"m":"c","b":"best","x":0.2,"y":1.1},{"m":"c","b":"best","x":0.225,"y":1.42},{"m":"c","b":"best","x":0.25,"y":1.83},{"m":"c","b":"best","x":0.2743,"y":2.32}]
},
"concat":[
{"width":319,"height":186,"title":"Iberus_COX1","encoding":{"x":{"field":"x","type":"quantitative","title":"Jukes- Cantor distance","scale":{"domain":[-0.0105,0.2542],"nice":false,"zero":false},"axis":{"values":[0,0.05,0.1,0.15,0.2,0.25],"format":".2f"}},"y":{"field":"y","type":"quantitative","title":"dS","scale":{"domain":[-0.21,5.16],"nice":false,"zero":false},"axis":{"values":[0,1,2,3,4,5],"format":"d"}}},"layer":[{"data":{"name":"p1"},"mark":{"type":"circle","size":8,"opacity":1,"color":"#707070","clip":true}},{"data":{"name":"f1"},"transform":[{"filter":"datum.m=='l'"}],"mark":{"type":"line","color":"#2b2ba6","clip":true},"encoding":{"strokeWidth":{"field":"b","type":"nominal","scale":{"type":"ordinal","domain":["alt","best"],"range":[1,4]},"legend":null},"strokeDash":{"field":"b","type":"nominal","scale":{"domain":["alt","best"],"range":[[4,3],[1,0]]},"legend":null}}},{"data":{"name":"f1"},"transform":[{"filter":"datum.m=='q'"}],"mark":{"type":"line","color":"#e52a20","clip":true},"encoding":{"strokeWidth":{"field":"b","type":"nominal","scale":{"type":"ordinal","domain":["alt","best"],"range":[1,4]},"legend":null},"strokeDash":{"field":"b","type":"nominal","scale":{"domain":["alt","best"],"range":[[4,3],[1,0]]},"legend":null}}},{"data":{"name":"f1"},"transform":[{"filter":"datum.m=='c'"}],"mark":{"type":"line","color":"#5e8260","clip":true},"encoding":{"strokeWidth":{"field":"b","type":"nominal","scale":{"type":"ordinal","domain":["alt","best"],"range":[1,4]},"legend":null},"strokeDash":{"field":"b","type":"nominal","scale":{"domain":["alt","best"],"range":[[4,3],[1,0]]},"legend":null}}}]},
{"width":319,"height":186,"title":"Kovacsia_kovacsii_COX1","encoding":{"x":{"field":"x","type":"quantitative","title":"Jukes- Cantor distance","scale":{"domain":[-0.00455,0.1691],"nice":false,"zero":false},"axis":{"values":[0,0.05,0.1,0.15],"format":".2f"}},"y":{"field":"y","type":"quantitative","title":"dS","scale":{"domain":[-0.045,1.152],"nice":false,"zero":false},"axis":{"values":[0,0.2,0.4,0.6,0.8,1],"format":".1f","labelExpr":"round(datum.value*10)%4==0 ? datum.label : ''"}}},"layer":[{"data":{"name":"p2"},"mark":{"type":"circle","size":8,"opacity":1,"color":"#707070","clip":true}},{"data":{"name":"f2"},"transform":[{"filter":"datum.m=='l'"}],"mark":{"type":"line","color":"#2b2ba6","clip":true},"encoding":{"strokeWidth":{"field":"b","type":"nominal","scale":{"type":"ordinal","domain":["alt","best"],"range":[1,4]},"legend":null},"strokeDash":{"field":"b","type":"nominal","scale":{"domain":["alt","best"],"range":[[4,3],[1,0]]},"legend":null}}},{"data":{"name":"f2"},"transform":[{"filter":"datum.m=='q'"}],"mark":{"type":"line","color":"#e52a20","clip":true},"encoding":{"strokeWidth":{"field":"b","type":"nominal","scale":{"type":"ordinal","domain":["alt","best"],"range":[1,4]},"legend":null},"strokeDash":{"field":"b","type":"nominal","scale":{"domain":["alt","best"],"range":[[4,3],[1,0]]},"legend":null}}},{"data":{"name":"f2"},"transform":[{"filter":"datum.m=='c'"}],"mark":{"type":"line","color":"#5e8260","clip":true},"encoding":{"strokeWidth":{"field":"b","type":"nominal","scale":{"type":"ordinal","domain":["alt","best"],"range":[1,4]},"legend":null},"strokeDash":{"field":"b","type":"nominal","scale":{"domain":["alt","best"],"range":[[4,3],[1,0]]},"legend":null}}}]},
{"width":319,"height":186,"title":"Lozekia_deubeli_COX1","encoding":{"x":{"field":"x","type":"quantitative","title":"Jukes- Cantor distance","scale":{"domain":[-0.0039,0.1833],"nice":false,"zero":false},"axis":{"values":[0,0.05,0.1,0.15],"format":".2f"}},"y":{"field":"y","type":"quantitative","title":"dS","scale":{"domain":[-0.051,1.179],"nice":false,"zero":false},"axis":{"values":[0,0.2,0.4,0.6,0.8,1],"format":".1f","labelExpr":"round(datum.value*10)%4==0 ? datum.label : ''"}}},"layer":[{"data":{"name":"p3"},"mark":{"type":"circle","size":8,"opacity":1,"color":"#707070","clip":true}},{"data":{"name":"f3"},"transform":[{"filter":"datum.m=='l'"}],"mark":{"type":"line","color":"#2b2ba6","clip":true},"encoding":{"strokeWidth":{"field":"b","type":"nominal","scale":{"type":"ordinal","domain":["alt","best"],"range":[1,4]},"legend":null},"strokeDash":{"field":"b","type":"nominal","scale":{"domain":["alt","best"],"range":[[4,3],[1,0]]},"legend":null}}},{"data":{"name":"f3"},"transform":[{"filter":"datum.m=='q'"}],"mark":{"type":"line","color":"#e52a20","clip":true},"encoding":{"strokeWidth":{"field":"b","type":"nominal","scale":{"type":"ordinal","domain":["alt","best"],"range":[1,4]},"legend":null},"strokeDash":{"field":"b","type":"nominal","scale":{"domain":["alt","best"],"range":[[4,3],[1,0]]},"legend":null}}},{"data":{"name":"f3"},"transform":[{"filter":"datum.m=='c'"}],"mark":{"type":"line","color":"#5e8260","clip":true},"encoding":{"strokeWidth":{"field":"b","type":"nominal","scale":{"type":"ordinal","domain":["alt","best"],"range":[1,4]},"legend":null},"strokeDash":{"field":"b","type":"nominal","scale":{"domain":["alt","best"],"range":[[4,3],[1,0]]},"legend":null}}}]},
{"width":319,"height":186,"title":"Marmorana_COX1","encoding":{"x":{"field":"x","type":"quantitative","title":"Jukes- Cantor distance","scale":{"domain":[-0.012,0.2888],"nice":false,"zero":false},"axis":{"values":[0,0.05,0.1,0.15,0.2,0.25],"format":".2f"}},"y":{"field":"y","type":"quantitative","title":"dS","scale":{"domain":[-0.18,4.79],"nice":false,"zero":false},"axis":{"values":[0,1,2,3,4],"format":"d"}}},"layer":[{"data":{"name":"p4"},"mark":{"type":"circle","size":8,"opacity":1,"color":"#707070","clip":true}},{"data":{"name":"f4"},"transform":[{"filter":"datum.m=='l'"}],"mark":{"type":"line","color":"#2b2ba6","clip":true},"encoding":{"strokeWidth":{"field":"b","type":"nominal","scale":{"type":"ordinal","domain":["alt","best"],"range":[1,4]},"legend":null},"strokeDash":{"field":"b","type":"nominal","scale":{"domain":["alt","best"],"range":[[4,3],[1,0]]},"legend":null}}},{"data":{"name":"f4"},"transform":[{"filter":"datum.m=='q'"}],"mark":{"type":"line","color":"#e52a20","clip":true},"encoding":{"strokeWidth":{"field":"b","type":"nominal","scale":{"type":"ordinal","domain":["alt","best"],"range":[1,4]},"legend":null},"strokeDash":{"field":"b","type":"nominal","scale":{"domain":["alt","best"],"range":[[4,3],[1,0]]},"legend":null}}},{"data":{"name":"f4"},"transform":[{"filter":"datum.m=='c'"}],"mark":{"type":"line","color":"#5e8260","clip":true},"encoding":{"strokeWidth":{"field":"b","type":"nominal","scale":{"type":"ordinal","domain":["alt","best"],"range":[1,4]},"legend":null},"strokeDash":{"field":"b","type":"nominal","scale":{"domain":["alt","best"],"range":[[4,3],[1,0]]},"legend":null}}}]},
{"width":319,"height":186,"title":"Natalina_COX1","encoding":{"x":{"field":"x","type":"quantitative","title":"Jukes- Cantor distance","scale":{"domain":[-0.0095,0.2916],"nice":false,"zero":false},"axis":{"values":[0,0.05,0.1,0.15,0.2,0.25],"format":".2f"}},"y":{"field":"y","type":"quantitative","title":"dS","scale":{"domain":[-0.2,5.29],"nice":false,"zero":false},"axis":{"values":[0,1,2,3,4,5],"format":"d"}}},"layer":[{"data":{"name":"p5"},"mark":{"type":"circle","size":8,"opacity":1,"color":"#707070","clip":true}},{"data":{"name":"f5"},"transform":[{"filter":"datum.m=='l'"}],"mark":{"type":"line","color":"#2b2ba6","clip":true},"encoding":{"strokeWidth":{"field":"b","type":"nominal","scale":{"type":"ordinal","domain":["alt","best"],"range":[1,4]},"legend":null},"strokeDash":{"field":"b","type":"nominal","scale":{"domain":["alt","best"],"range":[[4,3],[1,0]]},"legend":null}}},{"data":{"name":"f5"},"transform":[{"filter":"datum.m=='q'"}],"mark":{"type":"line","color":"#e52a20","clip":true},"encoding":{"strokeWidth":{"field":"b","type":"nominal","scale":{"type":"ordinal","domain":["alt","best"],"range":[1,4]},"legend":null},"strokeDash":{"field":"b","type":"nominal","scale":{"domain":["alt","best"],"range":[[4,3],[1,0]]},"legend":null}}},{"data":{"name":"f5"},"transform":[{"filter":"datum.m=='c'"}],"mark":{"type":"line","color":"#5e8260","clip":true},"encoding":{"strokeWidth":{"field":"b","type":"nominal","scale":{"type":"ordinal","domain":["alt","best"],"range":[1,4]},"legend":null},"strokeDash":{"field":"b","type":"nominal","scale":{"domain":["alt","best"],"range":[[4,3],[1,0]]},"legend":null}}}]},
{"width":319,"height":186,"title":"Oreohelix_COX1","encoding":{"x":{"field":"x","type":"quantitative","title":"Jukes- Cantor distance","scale":{"domain":[-0.0095,0.2493],"nice":false,"zero":false},"axis":{"values":[0,0.05,0.1,0.15,0.2],"format":".2f"}},"y":{"field":"y","type":"quantitative","title":"dS","scale":{"domain":[-0.055,1.53],"nice":false,"zero":false},"axis":{"values":[0,0.5,1,1.5],"format":".1f"}}},"layer":[{"data":{"name":"p6"},"mark":{"type":"circle","size":8,"opacity":1,"color":"#707070","clip":true}},{"data":{"name":"f6"},"transform":[{"filter":"datum.m=='l'"}],"mark":{"type":"line","color":"#2b2ba6","clip":true},"encoding":{"strokeWidth":{"field":"b","type":"nominal","scale":{"type":"ordinal","domain":["alt","best"],"range":[1,4]},"legend":null},"strokeDash":{"field":"b","type":"nominal","scale":{"domain":["alt","best"],"range":[[4,3],[1,0]]},"legend":null}}},{"data":{"name":"f6"},"transform":[{"filter":"datum.m=='q'"}],"mark":{"type":"line","color":"#e52a20","clip":true},"encoding":{"strokeWidth":{"field":"b","type":"nominal","scale":{"type":"ordinal","domain":["alt","best"],"range":[1,4]},"legend":null},"strokeDash":{"field":"b","type":"nominal","scale":{"domain":["alt","best"],"range":[[4,3],[1,0]]},"legend":null}}},{"data":{"name":"f6"},"transform":[{"filter":"datum.m=='c'"}],"mark":{"type":"line","color":"#5e8260","clip":true},"encoding":{"strokeWidth":{"field":"b","type":"nominal","scale":{"type":"ordinal","domain":["alt","best"],"range":[1,4]},"legend":null},"strokeDash":{"field":"b","type":"nominal","scale":{"domain":["alt","best"],"range":[[4,3],[1,0]]},"legend":null}}}]},
{"width":319,"height":186,"title":"Partula_COX1","encoding":{"x":{"field":"x","type":"quantitative","title":"Jukes- Cantor distance","scale":{"domain":[-0.01,0.2429],"nice":false,"zero":false},"axis":{"values":[0,0.05,0.1,0.15,0.2],"format":".2f"}},"y":{"field":"y","type":"quantitative","title":"dS","scale":{"domain":[-0.09,2.67],"nice":false,"zero":false},"axis":{"values":[0,0.5,1,1.5,2,2.5],"format":".1f","labelExpr":"round(datum.value*10)%10==0 ? datum.label : ''"}}},"layer":[{"data":{"name":"p7"},"mark":{"type":"circle","size":8,"opacity":1,"color":"#707070","clip":true}},{"data":{"name":"f7"},"transform":[{"filter":"datum.m=='l'"}],"mark":{"type":"line","color":"#2b2ba6","clip":true},"encoding":{"strokeWidth":{"field":"b","type":"nominal","scale":{"type":"ordinal","domain":["alt","best"],"range":[1,4]},"legend":null},"strokeDash":{"field":"b","type":"nominal","scale":{"domain":["alt","best"],"range":[[4,3],[1,0]]},"legend":null}}},{"data":{"name":"f7"},"transform":[{"filter":"datum.m=='q'"}],"mark":{"type":"line","color":"#e52a20","clip":true},"encoding":{"strokeWidth":{"field":"b","type":"nominal","scale":{"type":"ordinal","domain":["alt","best"],"range":[1,4]},"legend":null},"strokeDash":{"field":"b","type":"nominal","scale":{"domain":["alt","best"],"range":[[4,3],[1,0]]},"legend":null}}},{"data":{"name":"f7"},"transform":[{"filter":"datum.m=='c'"}],"mark":{"type":"line","color":"#5e8260","clip":true},"encoding":{"strokeWidth":{"field":"b","type":"nominal","scale":{"type":"ordinal","domain":["alt","best"],"range":[1,4]},"legend":null},"strokeDash":{"field":"b","type":"nominal","scale":{"domain":["alt","best"],"range":[[4,3],[1,0]]},"legend":null}}}]},
{"width":319,"height":186,"title":"Partulina_COX1","encoding":{"x":{"field":"x","type":"quantitative","title":"Jukes- Cantor distance","scale":{"domain":[-0.0151,0.3645],"nice":false,"zero":false},"axis":{"values":[0,0.05,0.1,0.15,0.2,0.25,0.3,0.35],"format":".2f","labelExpr":"round(datum.value*100)%10==0 ? datum.label : ''"}},"y":{"field":"y","type":"quantitative","title":"dS","scale":{"domain":[-0.14,4.07],"nice":false,"zero":false},"axis":{"values":[0,1,2,3,4],"format":"d"}}},"layer":[{"data":{"name":"p8"},"mark":{"type":"circle","size":8,"opacity":1,"color":"#707070","clip":true}},{"data":{"name":"f8"},"transform":[{"filter":"datum.m=='l'"}],"mark":{"type":"line","color":"#2b2ba6","clip":true},"encoding":{"strokeWidth":{"field":"b","type":"nominal","scale":{"type":"ordinal","domain":["alt","best"],"range":[1,4]},"legend":null},"strokeDash":{"field":"b","type":"nominal","scale":{"domain":["alt","best"],"range":[[4,3],[1,0]]},"legend":null}}},{"data":{"name":"f8"},"transform":[{"filter":"datum.m=='q'"}],"mark":{"type":"line","color":"#e52a20","clip":true},"encoding":{"strokeWidth":{"field":"b","type":"nominal","scale":{"type":"ordinal","domain":["alt","best"],"range":[1,4]},"legend":null},"strokeDash":{"field":"b","type":"nominal","scale":{"domain":["alt","best"],"range":[[4,3],[1,0]]},"legend":null}}},{"data":{"name":"f8"},"transform":[{"filter":"datum.m=='c'"}],"mark":{"type":"line","color":"#5e8260","clip":true},"encoding":{"strokeWidth":{"field":"b","type":"nominal","scale":{"type":"ordinal","domain":["alt","best"],"range":[1,4]},"legend":null},"strokeDash":{"field":"b","type":"nominal","scale":{"domain":["alt","best"],"range":[[4,3],[1,0]]},"legend":null}}}]},
{"width":319,"height":186,"title":"Paryphanta_busbyi_COX1","encoding":{"x":{"field":"x","type":"quantitative","title":"Jukes- Cantor distance","scale":{"domain":[-0.001166,0.02813],"nice":false,"zero":false},"axis":{"values":[0,0.005,0.01,0.015,0.02,0.025],"format":".3f","labelExpr":"round(datum.value*1000)%10==0 ? datum.label : ''"}},"y":{"field":"y","type":"quantitative","title":"dS","scale":{"domain":[-0.0048,0.1299],"nice":false,"zero":false},"axis":{"values":[0,0.02,0.04,0.06,0.08,0.1,0.12],"format":".2f","labelExpr":"round(datum.value*100)%4==0 ? datum.label : ''"}}},"layer":[{"data":{"name":"p9"},"mark":{"type":"circle","size":8,"opacity":1,"color":"#707070","clip":true}},{"data":{"name":"f9"},"transform":[{"filter":"datum.m=='l'"}],"mark":{"type":"line","color":"#2b2ba6","clip":true},"encoding":{"strokeWidth":{"field":"b","type":"nominal","scale":{"type":"ordinal","domain":["alt","best"],"range":[1,4]},"legend":null},"strokeDash":{"field":"b","type":"nominal","scale":{"domain":["alt","best"],"range":[[4,3],[1,0]]},"legend":null}}},{"data":{"name":"f9"},"transform":[{"filter":"datum.m=='q'"}],"mark":{"type":"line","color":"#e52a20","clip":true},"encoding":{"strokeWidth":{"field":"b","type":"nominal","scale":{"type":"ordinal","domain":["alt","best"],"range":[1,4]},"legend":null},"strokeDash":{"field":"b","type":"nominal","scale":{"domain":["alt","best"],"range":[[4,3],[1,0]]},"legend":null}}},{"data":{"name":"f9"},"transform":[{"filter":"datum.m=='c'"}],"mark":{"type":"line","color":"#5e8260","clip":true},"encoding":{"strokeWidth":{"field":"b","type":"nominal","scale":{"type":"ordinal","domain":["alt","best"],"range":[1,4]},"legend":null},"strokeDash":{"field":"b","type":"nominal","scale":{"domain":["alt","best"],"range":[[4,3],[1,0]]},"legend":null}}}]},
{"width":319,"height":186,"title":"Placostylus_COX1","encoding":{"x":{"field":"x","type":"quantitative","title":"Jukes- Cantor distance","scale":{"domain":[-0.014,0.3388],"nice":false,"zero":false},"axis":{"values":[0,0.05,0.1,0.15,0.2,0.25,0.3],"format":".2f","labelExpr":"round(datum.value*100)%10==0 ? datum.label : ''"}},"y":{"field":"y","type":"quantitative","title":"dS","scale":{"domain":[-0.118,3.177],"nice":false,"zero":false},"axis":{"values":[0,0.5,1,1.5,2,2.5,3],"format":".1f","labelExpr":"round(datum.value*10)%10==0 ? datum.label : ''"}}},"layer":[{"data":{"name":"p10"},"mark":{"type":"circle","size":8,"opacity":1,"color":"#707070","clip":true}},{"data":{"name":"f10"},"transform":[{"filter":"datum.m=='l'"}],"mark":{"type":"line","color":"#2b2ba6","clip":true},"encoding":{"strokeWidth":{"field":"b","type":"nominal","scale":{"type":"ordinal","domain":["alt","best"],"range":[1,4]},"legend":null},"strokeDash":{"field":"b","type":"nominal","scale":{"domain":["alt","best"],"range":[[4,3],[1,0]]},"legend":null}}},{"data":{"name":"f10"},"transform":[{"filter":"datum.m=='q'"}],"mark":{"type":"line","color":"#e52a20","clip":true},"encoding":{"strokeWidth":{"field":"b","type":"nominal","scale":{"type":"ordinal","domain":["alt","best"],"range":[1,4]},"legend":null},"strokeDash":{"field":"b","type":"nominal","scale":{"domain":["alt","best"],"range":[[4,3],[1,0]]},"legend":null}}},{"data":{"name":"f10"},"transform":[{"filter":"datum.m=='c'"}],"mark":{"type":"line","color":"#5e8260","clip":true},"encoding":{"strokeWidth":{"field":"b","type":"nominal","scale":{"type":"ordinal","domain":["alt","best"],"range":[1,4]},"legend":null},"strokeDash":{"field":"b","type":"nominal","scale":{"domain":["alt","best"],"range":[[4,3],[1,0]]},"legend":null}}}]},
{"width":319,"height":186,"title":"Pupilla_COX1","encoding":{"x":{"field":"x","type":"quantitative","title":"Jukes- Cantor distance","scale":{"domain":[-0.0053,0.2066],"nice":false,"zero":false},"axis":{"values":[0,0.05,0.1,0.15,0.2],"format":".2f"}},"y":{"field":"y","type":"quantitative","title":"dS","scale":{"domain":[-0.054,1.279],"nice":false,"zero":false},"axis":{"values":[0,0.2,0.4,0.6,0.8,1,1.2],"format":".1f","labelExpr":"round(datum.value*10)%4==0 ? datum.label : ''"}}},"layer":[{"data":{"name":"p11"},"mark":{"type":"circle","size":8,"opacity":1,"color":"#707070","clip":true}},{"data":{"name":"f11"},"transform":[{"filter":"datum.m=='l'"}],"mark":{"type":"line","color":"#2b2ba6","clip":true},"encoding":{"strokeWidth":{"field":"b","type":"nominal","scale":{"type":"ordinal","domain":["alt","best"],"range":[1,4]},"legend":null},"strokeDash":{"field":"b","type":"nominal","scale":{"domain":["alt","best"],"range":[[4,3],[1,0]]},"legend":null}}},{"data":{"name":"f11"},"transform":[{"filter":"datum.m=='q'"}],"mark":{"type":"line","color":"#e52a20","clip":true},"encoding":{"strokeWidth":{"field":"b","type":"nominal","scale":{"type":"ordinal","domain":["alt","best"],"range":[1,4]},"legend":null},"strokeDash":{"field":"b","type":"nominal","scale":{"domain":["alt","best"],"range":[[4,3],[1,0]]},"legend":null}}},{"data":{"name":"f11"},"transform":[{"filter":"datum.m=='c'"}],"mark":{"type":"line","color":"#5e8260","clip":true},"encoding":{"strokeWidth":{"field":"b","type":"nominal","scale":{"type":"ordinal","domain":["alt","best"],"range":[1,4]},"legend":null},"strokeDash":{"field":"b","type":"nominal","scale":{"domain":["alt","best"],"range":[[4,3],[1,0]]},"legend":null}}}]},
{"width":319,"height":186,"title":"Satsuma_COX1","encoding":{"x":{"field":"x","type":"quantitative","title":"Jukes- Cantor distance","scale":{"domain":[-0.0119,0.3136],"nice":false,"zero":false},"axis":{"values":[0,0.05,0.1,0.15,0.2,0.25,0.3],"format":".2f","labelExpr":"round(datum.value*100)%10==0 ? datum.label : ''"}},"y":{"field":"y","type":"quantitative","title":"dS","scale":{"domain":[-0.202,5.434],"nice":false,"zero":false},"axis":{"values":[0,1,2,3,4,5],"format":"d"}}},"layer":[{"data":{"name":"p12"},"mark":{"type":"circle","size":8,"opacity":1,"color":"#707070","clip":true}},{"data":{"name":"f12"},"transform":[{"filter":"datum.m=='l'"}],"mark":{"type":"line","color":"#2b2ba6","clip":true},"encoding":{"strokeWidth":{"field":"b","type":"nominal","scale":{"type":"ordinal","domain":["alt","best"],"range":[1,4]},"legend":null},"strokeDash":{"field":"b","type":"nominal","scale":{"domain":["alt","best"],"range":[[4,3],[1,0]]},"legend":null}}},{"data":{"name":"f12"},"transform":[{"filter":"datum.m=='q'"}],"mark":{"type":"line","color":"#e52a20","clip":true},"encoding":{"strokeWidth":{"field":"b","type":"nominal","scale":{"type":"ordinal","domain":["alt","best"],"range":[1,4]},"legend":null},"strokeDash":{"field":"b","type":"nominal","scale":{"domain":["alt","best"],"range":[[4,3],[1,0]]},"legend":null}}},{"data":{"name":"f12"},"transform":[{"filter":"datum.m=='c'"}],"mark":{"type":"line","color":"#5e8260","clip":true},"encoding":{"strokeWidth":{"field":"b","type":"nominal","scale":{"type":"ordinal","domain":["alt","best"],"range":[1,4]},"legend":null},"strokeDash":{"field":"b","type":"nominal","scale":{"domain":["alt","best"],"range":[[4,3],[1,0]]},"legend":null}}}]},
{"width":319,"height":186,"title":"Sericata_COX1","encoding":{"x":{"field":"x","type":"quantitative","title":"Jukes- Cantor distance","scale":{"domain":[-0.0103,0.2624],"nice":false,"zero":false},"axis":{"values":[0,0.05,0.1,0.15,0.2,0.25],"format":".2f"}},"y":{"field":"y","type":"quantitative","title":"dS","scale":{"domain":[-0.146,3.92],"nice":false,"zero":false},"axis":{"values":[0,1,2,3],"format":"d"}}},"layer":[{"data":{"name":"p13"},"mark":{"type":"circle","size":8,"opacity":1,"color":"#707070","clip":true}},{"data":{"name":"f13"},"transform":[{"filter":"datum.m=='l'"}],"mark":{"type":"line","color":"#2b2ba6","clip":true},"encoding":{"strokeWidth":{"field":"b","type":"nominal","scale":{"type":"ordinal","domain":["alt","best"],"range":[1,4]},"legend":null},"strokeDash":{"field":"b","type":"nominal","scale":{"domain":["alt","best"],"range":[[4,3],[1,0]]},"legend":null}}},{"data":{"name":"f13"},"transform":[{"filter":"datum.m=='q'"}],"mark":{"type":"line","color":"#e52a20","clip":true},"encoding":{"strokeWidth":{"field":"b","type":"nominal","scale":{"type":"ordinal","domain":["alt","best"],"range":[1,4]},"legend":null},"strokeDash":{"field":"b","type":"nominal","scale":{"domain":["alt","best"],"range":[[4,3],[1,0]]},"legend":null}}},{"data":{"name":"f13"},"transform":[{"filter":"datum.m=='c'"}],"mark":{"type":"line","color":"#5e8260","clip":true},"encoding":{"strokeWidth":{"field":"b","type":"nominal","scale":{"type":"ordinal","domain":["alt","best"],"range":[1,4]},"legend":null},"strokeDash":{"field":"b","type":"nominal","scale":{"domain":["alt","best"],"range":[[4,3],[1,0]]},"legend":null}}}]},
{"width":319,"height":186,"title":"Solatopupa_COX1","encoding":{"x":{"field":"x","type":"quantitative","title":"Jukes- Cantor distance","scale":{"domain":[-0.00867,0.256],"nice":false,"zero":false},"axis":{"values":[0,0.05,0.1,0.15,0.2,0.25],"format":".2f"}},"y":{"field":"y","type":"quantitative","title":"dS","scale":{"domain":[-0.082,2.188],"nice":false,"zero":false},"axis":{"values":[0,0.5,1,1.5,2],"format":".1f","labelExpr":"round(datum.value*10)%10==0 ? datum.label : ''"}}},"layer":[{"data":{"name":"p14"},"mark":{"type":"circle","size":8,"opacity":1,"color":"#707070","clip":true}},{"data":{"name":"f14"},"transform":[{"filter":"datum.m=='l'"}],"mark":{"type":"line","color":"#2b2ba6","clip":true},"encoding":{"strokeWidth":{"field":"b","type":"nominal","scale":{"type":"ordinal","domain":["alt","best"],"range":[1,4]},"legend":null},"strokeDash":{"field":"b","type":"nominal","scale":{"domain":["alt","best"],"range":[[4,3],[1,0]]},"legend":null}}},{"data":{"name":"f14"},"transform":[{"filter":"datum.m=='q'"}],"mark":{"type":"line","color":"#e52a20","clip":true},"encoding":{"strokeWidth":{"field":"b","type":"nominal","scale":{"type":"ordinal","domain":["alt","best"],"range":[1,4]},"legend":null},"strokeDash":{"field":"b","type":"nominal","scale":{"domain":["alt","best"],"range":[[4,3],[1,0]]},"legend":null}}},{"data":{"name":"f14"},"transform":[{"filter":"datum.m=='c'"}],"mark":{"type":"line","color":"#5e8260","clip":true},"encoding":{"strokeWidth":{"field":"b","type":"nominal","scale":{"type":"ordinal","domain":["alt","best"],"range":[1,4]},"legend":null},"strokeDash":{"field":"b","type":"nominal","scale":{"domain":["alt","best"],"range":[[4,3],[1,0]]},"legend":null}}}]},
{"width":319,"height":186,"title":"Succinea_COX1","encoding":{"x":{"field":"x","type":"quantitative","title":"Jukes- Cantor distance","scale":{"domain":[-0.0093,0.2743],"nice":false,"zero":false},"axis":{"values":[0,0.05,0.1,0.15,0.2,0.25],"format":".2f"}},"y":{"field":"y","type":"quantitative","title":"dS","scale":{"domain":[-0.123,3.294],"nice":false,"zero":false},"axis":{"values":[0,0.5,1,1.5,2,2.5,3],"format":".1f","labelExpr":"round(datum.value*10)%10==0 ? datum.label : ''"}}},"layer":[{"data":{"name":"p15"},"mark":{"type":"circle","size":8,"opacity":1,"color":"#707070","clip":true}},{"data":{"name":"f15"},"transform":[{"filter":"datum.m=='l'"}],"mark":{"type":"line","color":"#2b2ba6","clip":true},"encoding":{"strokeWidth":{"field":"b","type":"nominal","scale":{"type":"ordinal","domain":["alt","best"],"range":[1,4]},"legend":null},"strokeDash":{"field":"b","type":"nominal","scale":{"domain":["alt","best"],"range":[[4,3],[1,0]]},"legend":null}}},{"data":{"name":"f15"},"transform":[{"filter":"datum.m=='q'"}],"mark":{"type":"line","color":"#e52a20","clip":true},"encoding":{"strokeWidth":{"field":"b","type":"nominal","scale":{"type":"ordinal","domain":["alt","best"],"range":[1,4]},"legend":null},"strokeDash":{"field":"b","type":"nominal","scale":{"domain":["alt","best"],"range":[[4,3],[1,0]]},"legend":null}}},{"data":{"name":"f15"},"transform":[{"filter":"datum.m=='c'"}],"mark":{"type":"line","color":"#5e8260","clip":true},"encoding":{"strokeWidth":{"field":"b","type":"nominal","scale":{"type":"ordinal","domain":["alt","best"],"range":[1,4]},"legend":null},"strokeDash":{"field":"b","type":"nominal","scale":{"domain":["alt","best"],"range":[[4,3],[1,0]]},"legend":null}}}]}
],
"config":{"view":{"stroke":"#1a1a1a","strokeWidth":1.3},"font":"Liberation Sans","line":{"interpolate":"monotone"},
"axis":{"domain":false,"grid":false,"ticks":true,"tickColor":"#1a1a1a","tickSize":12.5,"tickWidth":1.1,"labelFont":"Liberation Sans","labelFontSize":18,"labelColor":"#262626","titleFont":"Liberation Sans","titleFontSize":21,"titleFontWeight":"normal","titleColor":"#262626","labelOverlap":false,"labelFlush":false,"labelBound":false},
"axisX":{"labelAngle":0,"labelAlign":"center","labelBaseline":"alphabetic","labelPadding":31.5,"minExtent":50,"maxExtent":50,"titlePadding":18,"titleBaseline":"alphabetic"},
"axisY":{"labelAngle":270,"labelAlign":"center","labelBaseline":"alphabetic","labelPadding":22,"minExtent":35,"maxExtent":35,"titlePadding":20,"titleAngle":270,"titleBaseline":"alphabetic"},
"title":{"orient":"none","anchor":"start","frame":"group","dx":19,"dy":15,"baseline":"alphabetic","font":"Liberation Sans","fontSize":18,"fontWeight":"normal","color":"#262626","offset":0}}
}
